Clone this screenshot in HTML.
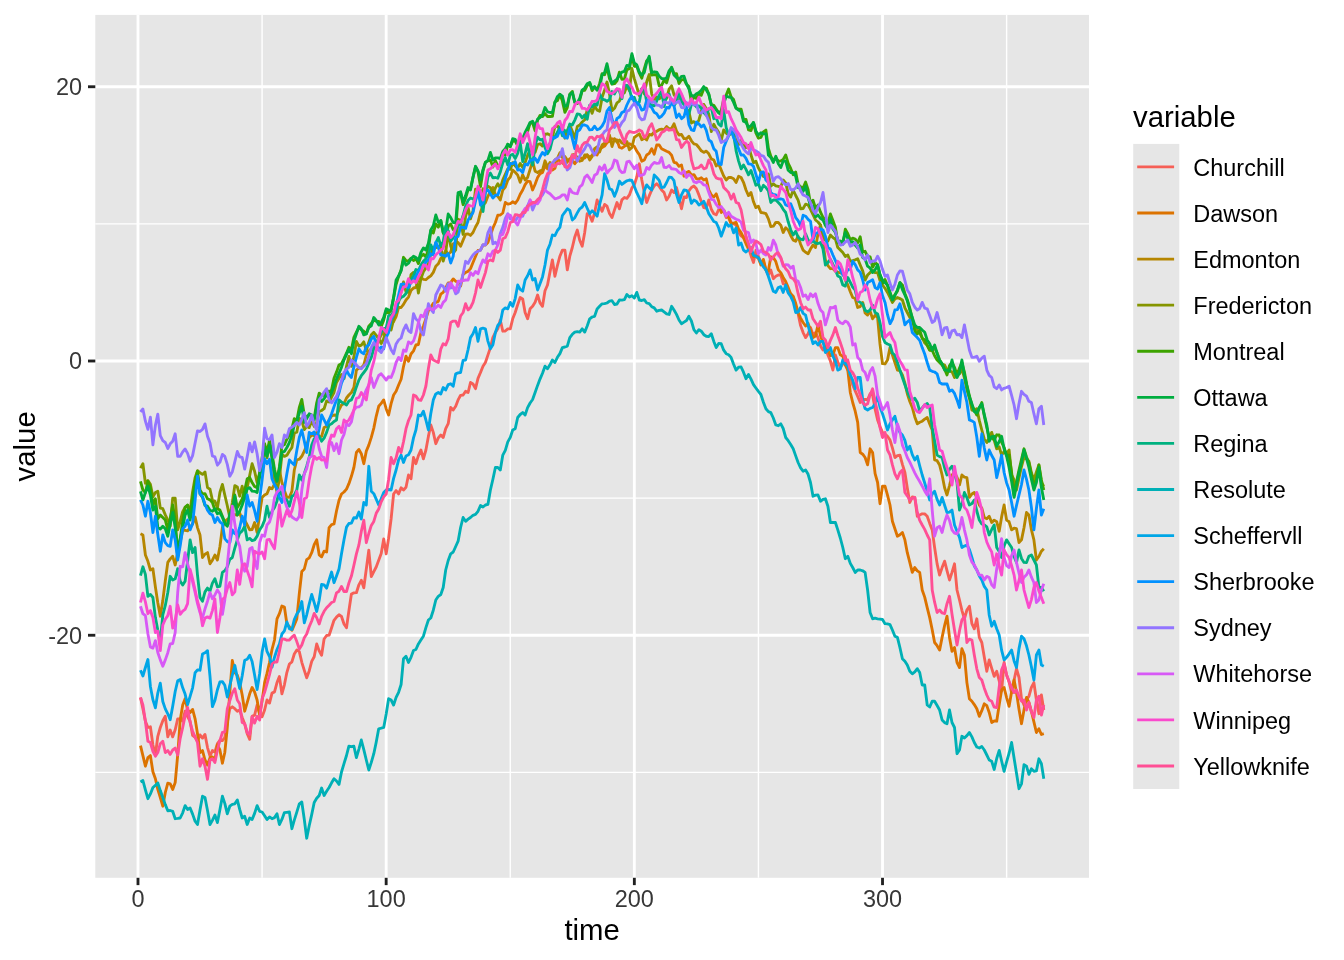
<!DOCTYPE html><html><head><meta charset="utf-8"><title>plot</title><style>html,body{margin:0;padding:0;background:#fff}svg{display:block}text{font-family:"Liberation Sans",sans-serif}</style></head><body>
<svg width="1344" height="960" viewBox="0 0 1344 960">
<rect width="1344" height="960" fill="#fff"/>
<rect x="95.3" y="14.9" width="993.7" height="862.9" fill="#E6E6E6"/>
<g stroke="#fff" stroke-width="1.42" fill="none">
<line x1="95.3" x2="1089.0" y1="772.38" y2="772.38"/>
<line x1="95.3" x2="1089.0" y1="498.12" y2="498.12"/>
<line x1="95.3" x2="1089.0" y1="223.88" y2="223.88"/>
<line y1="14.9" y2="877.8" x1="262.07" x2="262.07"/>
<line y1="14.9" y2="877.8" x1="510.25" x2="510.25"/>
<line y1="14.9" y2="877.8" x1="758.43" x2="758.43"/>
<line y1="14.9" y2="877.8" x1="1006.61" x2="1006.61"/>
</g><g stroke="#fff" stroke-width="2.85" fill="none">
<line x1="95.3" x2="1089.0" y1="635.25" y2="635.25"/>
<line x1="95.3" x2="1089.0" y1="361.00" y2="361.00"/>
<line x1="95.3" x2="1089.0" y1="86.75" y2="86.75"/>
<line y1="14.9" y2="877.8" x1="137.99" x2="137.99"/>
<line y1="14.9" y2="877.8" x1="386.16" x2="386.16"/>
<line y1="14.9" y2="877.8" x1="634.34" x2="634.34"/>
<line y1="14.9" y2="877.8" x1="882.52" x2="882.52"/>
</g>
<clipPath id="c"><rect x="95.3" y="14.9" width="993.7" height="862.9"/></clipPath>
<g clip-path="url(#c)" fill="none" stroke-width="2.85" stroke-linejoin="round" stroke-linecap="butt">
<polyline stroke="#F65F56" points="140.5,697.5 142.9,708.7 145.4,721.2 147.9,727.5 150.4,726.8 152.9,745.0 155.4,755.0 157.8,736.3 160.3,727.5 162.8,720.8 165.3,716.3 167.8,736.9 170.2,730.0 172.7,736.9 175.2,729.7 177.7,718.8 180.2,718.8 182.7,721.2 185.1,711.2 187.6,716.6 190.1,721.2 192.6,735.4 195.1,737.3 197.5,741.2 200.0,734.9 202.5,738.1 205.0,734.4 207.5,747.6 210.0,756.2 212.4,750.6 214.9,751.9 217.4,743.7 219.9,740.3 222.4,740.6 224.8,737.5 227.3,722.6 229.8,708.7 232.3,706.8 234.8,708.7 237.3,711.2 239.7,710.0 242.2,717.5 244.7,724.1 247.2,733.7 249.7,739.3 252.1,716.3 254.6,715.1 257.1,705.0 259.6,713.3 262.1,716.8 264.6,710.0 267.0,700.0 269.5,703.1 272.0,693.1 274.5,691.9 277.0,682.6 279.4,676.5 281.9,693.9 284.4,684.8 286.9,672.3 289.4,664.0 291.9,661.9 294.3,654.0 296.8,649.9 299.3,651.6 301.8,662.3 304.3,670.4 306.7,677.8 309.2,670.9 311.7,661.4 314.2,656.8 316.7,644.0 319.2,650.9 321.6,655.3 324.1,639.0 326.6,635.5 329.1,635.2 331.6,627.8 334.0,620.3 336.5,617.1 339.0,614.7 341.5,616.5 344.0,624.0 346.5,627.7 348.9,610.8 351.4,594.0 353.9,592.9 356.4,592.7 358.9,584.8 361.3,580.3 363.8,587.8 366.3,569.0 368.8,550.2 371.3,576.6 373.8,571.6 376.2,567.0 378.7,560.2 381.2,553.4 383.7,539.0 386.2,553.9 388.6,538.2 391.1,519.0 393.6,494.0 396.1,490.6 398.6,493.9 401.1,487.7 403.5,490.0 406.0,487.2 408.5,475.0 411.0,478.8 413.5,457.5 415.9,463.7 418.4,455.6 420.9,450.0 423.4,458.8 425.9,450.0 428.4,436.4 430.8,425.0 433.3,432.4 435.8,443.7 438.3,437.9 440.8,435.0 443.2,437.5 445.7,428.7 448.2,423.7 450.7,407.5 453.2,410.0 455.7,406.3 458.1,399.9 460.6,395.3 463.1,395.0 465.6,391.3 468.1,392.5 470.5,382.5 473.0,384.0 475.5,388.7 478.0,378.4 480.5,372.5 483.0,366.2 485.4,362.5 487.9,355.1 490.4,347.6 492.9,337.3 495.4,332.5 497.8,328.8 500.3,320.0 502.8,331.2 505.3,331.0 507.8,328.9 510.3,328.8 512.7,318.8 515.2,312.5 517.7,304.6 520.2,297.5 522.7,298.9 525.1,312.5 527.6,318.8 530.1,308.8 532.6,306.3 535.1,302.2 537.6,295.0 540.0,302.9 542.5,306.3 545.0,290.7 547.5,285.0 550.0,272.1 552.4,259.9 554.9,276.3 557.4,265.6 559.9,256.2 562.4,250.1 564.9,250.1 567.3,269.9 569.8,256.2 572.3,247.5 574.8,236.9 577.3,230.0 579.7,240.3 582.2,246.2 584.7,232.4 587.2,213.7 589.7,215.4 592.1,221.3 594.6,212.8 597.1,200.0 599.6,205.9 602.1,211.3 604.6,204.4 607.0,206.2 609.5,213.5 612.0,217.6 614.5,209.9 617.0,202.5 619.4,208.8 621.9,199.9 624.4,197.5 626.9,198.4 629.4,194.9 631.9,187.9 634.3,184.9 636.8,177.0 639.3,163.8 641.8,180.0 644.3,192.1 646.7,202.5 649.2,195.9 651.7,190.0 654.2,185.9 656.7,183.7 659.2,186.4 661.6,190.0 664.1,192.6 666.6,200.0 669.1,196.3 671.6,190.0 674.0,192.6 676.5,187.5 679.0,197.7 681.5,208.8 684.0,197.0 686.5,197.5 688.9,190.8 691.4,187.5 693.9,186.0 696.4,188.8 698.9,194.9 701.3,201.4 703.8,207.6 706.3,208.2 708.8,200.0 711.3,209.3 713.8,213.7 716.2,214.8 718.7,209.5 721.2,210.0 723.7,211.1 726.2,217.6 728.6,215.8 731.1,222.5 733.6,223.7 736.1,225.1 738.6,232.5 741.1,235.8 743.5,237.5 746.0,236.5 748.5,247.5 751.0,255.7 753.5,262.5 755.9,250.3 758.4,256.2 760.9,262.1 763.4,261.4 765.9,269.9 768.4,274.9 770.8,270.1 773.3,278.7 775.8,276.3 778.3,275.0 780.8,274.9 783.2,283.8 785.7,284.3 788.2,292.4 790.7,293.8 793.2,297.5 795.7,306.4 798.1,313.7 800.6,325.6 803.1,332.6 805.6,337.6 808.1,333.8 810.5,327.5 813.0,334.8 815.5,332.5 818.0,337.6 820.5,345.9 823.0,350.0 825.4,347.4 827.9,355.0 830.4,361.0 832.9,370.1 835.4,355.0 837.8,362.0 840.3,367.4 842.8,363.9 845.3,356.2 847.8,370.1 850.3,374.7 852.7,385.0 855.2,390.9 857.7,396.5 860.2,402.5 862.7,399.5 865.1,399.4 867.6,399.9 870.1,393.8 872.6,395.0 875.1,409.1 877.6,420.0 880.0,426.5 882.5,432.4 885.0,434.1 887.5,436.3 890.0,440.0 892.4,447.9 894.9,457.5 897.4,455.6 899.9,455.1 902.4,464.3 904.9,472.5 907.3,488.0 909.8,502.5 912.3,497.0 914.8,497.4 917.3,516.2 919.7,515.1 922.2,513.8 924.7,513.9 927.2,516.2 929.7,523.4 932.2,529.9 934.6,547.5 937.1,563.9 939.6,575.1 942.1,567.6 944.6,561.2 947.0,570.7 949.5,580.0 952.0,572.4 954.5,563.8 957.0,590.0 959.5,600.0 961.9,610.3 964.4,618.8 966.9,610.0 969.4,606.3 971.9,623.7 974.3,628.8 976.8,618.8 979.3,637.4 981.8,642.5 984.3,657.2 986.8,671.3 989.2,659.9 991.7,668.4 994.2,676.3 996.7,671.3 999.2,681.0 1001.6,691.2 1004.1,662.5 1006.6,675.0 1009.1,681.9 1011.6,692.6 1014.1,680.0 1016.5,668.7 1019.0,677.5 1021.5,698.7 1024.0,705.0 1026.5,699.6 1028.9,696.3 1031.4,687.4 1033.9,682.6 1036.4,700.0 1038.9,713.7 1041.4,695.0 1043.8,710.0"/>
<polyline stroke="#DC7300" points="140.5,745.6 142.9,755.6 145.4,766.2 147.9,757.6 150.4,755.6 152.9,771.8 155.4,778.7 157.8,789.4 160.3,797.5 162.8,806.2 165.3,792.5 167.8,783.1 170.2,783.8 172.7,789.4 175.2,782.5 177.7,755.0 180.2,720.0 182.7,705.0 185.1,698.7 187.6,710.0 190.1,712.5 192.6,709.4 195.1,718.8 197.5,733.7 200.0,752.5 202.5,750.6 205.0,760.0 207.5,765.0 210.0,757.6 212.4,756.9 214.9,760.0 217.4,745.0 219.9,750.0 222.4,763.2 224.8,752.5 227.3,727.5 229.8,692.6 232.3,660.5 234.8,672.5 237.3,675.2 239.7,682.6 242.2,695.0 244.7,711.2 247.2,702.7 249.7,693.8 252.1,687.5 254.6,692.0 257.1,700.0 259.6,715.1 262.1,700.7 264.6,682.6 267.0,673.4 269.5,662.5 272.0,649.5 274.5,640.0 277.0,618.9 279.4,613.7 281.9,606.0 284.4,607.0 286.9,624.0 289.4,626.7 291.9,630.3 294.3,625.0 296.8,618.9 299.3,593.7 301.8,571.5 304.3,569.0 306.7,559.6 309.2,557.8 311.7,552.7 314.2,544.7 316.7,539.8 319.2,554.8 321.6,556.8 324.1,551.2 326.6,552.0 329.1,527.7 331.6,524.7 334.0,524.0 336.5,511.0 339.0,500.2 341.5,494.0 344.0,492.0 346.5,489.1 348.9,483.7 351.4,476.3 353.9,467.5 356.4,452.5 358.9,449.4 361.3,453.7 363.8,463.7 366.3,451.1 368.8,445.1 371.3,437.4 373.8,428.1 376.2,416.3 378.7,406.3 381.2,403.4 383.7,399.9 386.2,408.9 388.6,415.0 391.1,403.6 393.6,395.0 396.1,391.3 398.6,385.0 401.1,379.2 403.5,366.6 406.0,356.2 408.5,361.3 411.0,354.0 413.5,350.9 415.9,345.0 418.4,344.5 420.9,332.5 423.4,325.9 425.9,318.8 428.4,310.5 430.8,307.5 433.3,303.3 435.8,302.4 438.3,301.4 440.8,294.1 443.2,292.4 445.7,287.9 448.2,282.8 450.7,282.6 453.2,278.9 455.7,281.2 458.1,282.4 460.6,286.1 463.1,274.3 465.6,272.6 468.1,271.2 470.5,268.6 473.0,262.5 475.5,256.5 478.0,250.5 480.5,250.1 483.0,245.0 485.4,245.1 487.9,242.5 490.4,235.3 492.9,228.0 495.4,222.5 497.8,215.1 500.3,215.0 502.8,213.0 505.3,202.5 507.8,204.1 510.3,203.7 512.7,201.8 515.2,203.3 517.7,200.0 520.2,194.3 522.7,190.0 525.1,184.7 527.6,181.2 530.1,181.6 532.6,190.0 535.1,184.2 537.6,177.5 540.0,173.8 542.5,172.5 545.0,165.7 547.5,168.8 550.0,166.6 552.4,170.0 554.9,168.3 557.4,158.7 559.9,161.2 562.4,162.9 564.9,165.0 567.3,161.6 569.8,158.6 572.3,160.0 574.8,163.7 577.3,160.5 579.7,157.5 582.2,158.3 584.7,158.1 587.2,155.0 589.7,157.1 592.1,155.4 594.6,153.8 597.1,155.0 599.6,148.9 602.1,147.5 604.6,146.1 607.0,142.6 609.5,141.2 612.0,138.7 614.5,139.7 617.0,140.0 619.4,147.2 621.9,148.2 624.4,146.3 626.9,145.3 629.4,143.8 631.9,145.0 634.3,146.3 636.8,151.2 639.3,154.6 641.8,161.2 644.3,160.0 646.7,155.0 649.2,153.4 651.7,148.7 654.2,154.2 656.7,145.0 659.2,145.0 661.6,148.7 664.1,150.0 666.6,151.3 669.1,152.4 671.6,155.2 674.0,162.4 676.5,163.0 679.0,166.3 681.5,165.0 684.0,176.2 686.5,172.5 688.9,171.4 691.4,175.1 693.9,174.6 696.4,178.8 698.9,179.0 701.3,177.8 703.8,180.0 706.3,178.8 708.8,190.0 711.3,194.9 713.8,197.0 716.2,193.8 718.7,201.2 721.2,212.5 723.7,210.0 726.2,215.1 728.6,217.6 731.1,223.7 733.6,223.1 736.1,222.5 738.6,229.2 741.1,232.5 743.5,237.7 746.0,243.8 748.5,249.1 751.0,250.1 753.5,256.5 755.9,256.2 758.4,258.3 760.9,265.0 763.4,259.4 765.9,269.9 768.4,270.8 770.8,256.8 773.3,257.5 775.8,261.6 778.3,269.9 780.8,272.6 783.2,277.5 785.7,281.6 788.2,287.5 790.7,293.9 793.2,296.3 795.7,303.3 798.1,312.5 800.6,318.1 803.1,322.5 805.6,326.0 808.1,323.4 810.5,330.0 813.0,337.6 815.5,336.0 818.0,324.9 820.5,335.8 823.0,342.5 825.4,346.5 827.9,350.0 830.4,355.5 832.9,355.0 835.4,347.6 837.8,347.6 840.3,354.8 842.8,356.2 845.3,365.0 847.8,370.1 850.3,392.5 852.7,402.5 855.2,411.2 857.7,422.4 860.2,452.5 862.7,454.2 865.1,457.5 867.6,464.9 870.1,448.8 872.6,452.5 875.1,473.7 877.6,482.5 880.0,503.7 882.5,486.2 885.0,486.2 887.5,495.1 890.0,505.0 892.4,521.3 894.9,528.7 897.4,536.2 899.9,534.7 902.4,532.5 904.9,539.9 907.3,552.7 909.8,562.4 912.3,572.4 914.8,567.5 917.3,570.9 919.7,572.4 922.2,590.0 924.7,597.1 927.2,607.6 929.7,617.6 932.2,629.8 934.6,642.5 937.1,645.7 939.6,650.1 942.1,637.4 944.6,625.5 947.0,616.2 949.5,637.4 952.0,651.3 954.5,647.5 957.0,662.5 959.5,667.5 961.9,648.7 964.4,655.0 966.9,682.6 969.4,698.7 971.9,701.2 974.3,704.6 976.8,708.7 979.3,716.3 981.8,710.7 984.3,703.8 986.8,705.6 989.2,712.5 991.7,722.5 994.2,721.0 996.7,721.2 999.2,704.8 1001.6,690.0 1004.1,687.5 1006.6,697.6 1009.1,706.3 1011.6,691.7 1014.1,680.0 1016.5,692.6 1019.0,709.2 1021.5,723.7 1024.0,710.0 1026.5,697.5 1028.9,702.4 1031.4,711.5 1033.9,721.9 1036.4,732.5 1038.9,728.8 1041.4,734.5 1043.8,733.7"/>
<polyline stroke="#B68600" points="140.5,533.8 142.9,535.0 145.4,555.0 147.9,561.3 150.4,570.0 152.9,568.7 155.4,587.0 157.8,602.8 160.3,616.2 162.8,600.6 165.3,580.8 167.8,562.4 170.2,558.9 172.7,556.3 175.2,565.0 177.7,552.6 180.2,542.1 182.7,529.9 185.1,530.3 187.6,530.8 190.1,527.5 192.6,523.9 195.1,517.0 197.5,527.6 200.0,535.0 202.5,557.5 205.0,554.1 207.5,552.6 210.0,563.8 212.4,560.2 214.9,555.0 217.4,560.0 219.9,546.7 222.4,527.5 224.8,521.3 227.3,519.5 229.8,517.9 232.3,516.2 234.8,514.7 237.3,515.0 239.7,513.1 242.2,520.1 244.7,520.1 247.2,525.0 249.7,529.9 252.1,529.5 254.6,522.5 257.1,532.5 259.6,514.7 262.1,497.4 264.6,495.0 267.0,493.7 269.5,487.6 272.0,488.8 274.5,484.1 277.0,481.3 279.4,470.0 281.9,482.5 284.4,490.4 286.9,497.4 289.4,497.4 291.9,491.3 294.3,470.0 296.8,460.0 299.3,459.2 301.8,456.3 304.3,451.2 306.7,445.1 309.2,437.8 311.7,435.0 314.2,435.5 316.7,432.4 319.2,436.6 321.6,436.3 324.1,427.5 326.6,426.4 329.1,420.0 331.6,416.0 334.0,415.0 336.5,415.3 339.0,410.0 341.5,404.9 344.0,403.5 346.5,398.0 348.9,395.0 351.4,392.5 353.9,387.5 356.4,370.1 358.9,368.0 361.3,368.0 363.8,365.0 366.3,355.0 368.8,351.0 371.3,348.9 373.8,344.3 376.2,341.4 378.7,340.0 381.2,334.9 383.7,333.3 386.2,329.0 388.6,326.9 391.1,324.9 393.6,321.6 396.1,316.7 398.6,307.4 401.1,307.5 403.5,304.4 406.0,300.0 408.5,297.1 411.0,290.5 413.5,288.0 415.9,287.5 418.4,278.3 420.9,277.9 423.4,279.3 425.9,279.7 428.4,277.5 430.8,275.8 433.3,272.4 435.8,266.2 438.3,263.8 440.8,258.3 443.2,256.6 445.7,250.5 448.2,254.3 450.7,252.0 453.2,243.8 455.7,242.9 458.1,242.5 460.6,246.2 463.1,240.1 465.6,234.2 468.1,233.9 470.5,235.4 473.0,232.5 475.5,227.0 478.0,222.5 480.5,212.2 483.0,205.0 485.4,202.8 487.9,196.3 490.4,191.4 492.9,187.5 495.4,194.7 497.8,196.3 500.3,200.0 502.8,190.0 505.3,187.0 507.8,180.0 510.3,177.1 512.7,170.0 515.2,172.2 517.7,175.1 520.2,182.3 522.7,174.8 525.1,180.0 527.6,177.4 530.1,169.4 532.6,161.2 535.1,171.2 537.6,172.5 540.0,170.9 542.5,170.0 545.0,160.8 547.5,167.1 550.0,162.4 552.4,164.2 554.9,160.0 557.4,158.3 559.9,152.8 562.4,157.5 564.9,156.5 567.3,160.0 569.8,161.5 572.3,155.0 574.8,154.4 577.3,157.6 579.7,161.2 582.2,160.4 584.7,155.0 587.2,154.8 589.7,160.0 592.1,156.5 594.6,148.7 597.1,146.8 599.6,151.9 602.1,145.0 604.6,143.1 607.0,140.0 609.5,135.0 612.0,146.5 614.5,138.7 617.0,142.3 619.4,140.0 621.9,143.0 624.4,143.8 626.9,141.5 629.4,149.8 631.9,147.5 634.3,137.5 636.8,135.7 639.3,133.8 641.8,139.8 644.3,138.0 646.7,140.0 649.2,134.5 651.7,135.0 654.2,132.0 656.7,131.3 659.2,129.7 661.6,129.1 664.1,129.9 666.6,126.5 669.1,128.7 671.6,128.4 674.0,123.8 676.5,130.9 679.0,135.0 681.5,134.5 684.0,138.7 686.5,138.6 688.9,136.3 691.4,140.8 693.9,143.8 696.4,144.5 698.9,147.5 701.3,150.8 703.8,152.4 706.3,151.1 708.8,153.8 711.3,158.9 713.8,160.0 716.2,165.9 718.7,163.7 721.2,170.0 723.7,176.0 726.2,180.0 728.6,177.5 731.1,177.5 733.6,178.8 736.1,182.5 738.6,176.3 741.1,177.5 743.5,182.3 746.0,190.0 748.5,195.6 751.0,192.5 753.5,201.8 755.9,207.6 758.4,206.2 760.9,212.5 763.4,212.9 765.9,213.7 768.4,218.8 770.8,226.5 773.3,226.2 775.8,222.4 778.3,222.5 780.8,225.2 783.2,232.5 785.7,227.7 788.2,230.0 790.7,235.5 793.2,240.1 795.7,241.2 798.1,236.2 800.6,244.2 803.1,250.1 805.6,252.3 808.1,253.8 810.5,249.1 813.0,245.0 815.5,247.5 818.0,234.0 820.5,225.0 823.0,242.8 825.4,259.9 827.9,265.6 830.4,268.7 832.9,268.6 835.4,271.2 837.8,272.1 840.3,273.0 842.8,272.6 845.3,280.0 847.8,285.0 850.3,291.8 852.7,297.5 855.2,298.5 857.7,307.5 860.2,306.6 862.7,302.4 865.1,312.9 867.6,315.1 870.1,311.1 872.6,318.8 875.1,315.2 877.6,317.5 880.0,344.0 882.5,363.7 885.0,363.9 887.5,360.0 890.0,347.6 892.4,354.8 894.9,362.5 897.4,370.1 899.9,370.6 902.4,375.0 904.9,383.1 907.3,393.8 909.8,401.5 912.3,407.5 914.8,416.9 917.3,423.8 919.7,422.2 922.2,421.2 924.7,419.1 927.2,417.5 929.7,423.9 932.2,430.0 934.6,460.0 937.1,460.7 939.6,464.9 942.1,475.0 944.6,487.8 947.0,495.0 949.5,485.5 952.0,475.0 954.5,472.5 957.0,477.3 959.5,485.0 961.9,475.0 964.4,477.1 966.9,477.6 969.4,497.4 971.9,494.0 974.3,492.5 976.8,497.4 979.3,505.0 981.8,508.1 984.3,517.5 986.8,518.7 989.2,516.2 991.7,522.5 994.2,520.1 996.7,521.6 999.2,531.3 1001.6,516.9 1004.1,505.0 1006.6,520.1 1009.1,521.8 1011.6,529.9 1014.1,528.2 1016.5,528.7 1019.0,542.6 1021.5,539.9 1024.0,527.7 1026.5,512.5 1028.9,515.0 1031.4,529.7 1033.9,539.9 1036.4,560.0 1038.9,556.5 1041.4,551.2 1043.8,548.7"/>
<polyline stroke="#859500" points="140.5,468.1 142.9,463.7 145.4,483.2 147.9,480.6 150.4,484.4 152.9,496.9 155.4,492.5 157.8,491.3 160.3,508.1 162.8,508.7 165.3,514.9 167.8,520.1 170.2,526.2 172.7,498.1 175.2,498.1 177.7,529.9 180.2,521.4 182.7,511.6 185.1,507.4 187.6,505.3 190.1,511.3 192.6,491.8 195.1,477.6 197.5,470.6 200.0,472.8 202.5,474.4 205.0,471.9 207.5,487.6 210.0,489.3 212.4,500.0 214.9,501.3 217.4,508.1 219.9,492.5 222.4,484.4 224.8,495.0 227.3,505.7 229.8,517.5 232.3,502.7 234.8,485.6 237.3,486.9 239.7,496.2 242.2,486.2 244.7,498.8 247.2,487.6 249.7,475.4 252.1,463.7 254.6,471.2 257.1,482.5 259.6,473.9 262.1,464.9 264.6,448.9 267.0,457.8 269.5,443.7 272.0,457.8 274.5,478.9 277.0,492.2 279.4,478.5 281.9,454.5 284.4,456.4 286.9,455.3 289.4,451.0 291.9,447.5 294.3,432.9 296.8,432.2 299.3,418.3 301.8,420.4 304.3,429.6 306.7,426.5 309.2,427.6 311.7,420.8 314.2,426.5 316.7,422.4 319.2,411.5 321.6,410.5 324.1,408.7 326.6,400.9 329.1,402.0 331.6,397.1 334.0,392.5 336.5,382.4 339.0,378.3 341.5,374.4 344.0,378.6 346.5,366.3 348.9,356.5 351.4,366.3 353.9,356.9 356.4,341.5 358.9,346.1 361.3,345.1 363.8,341.8 366.3,350.6 368.8,342.1 371.3,334.7 373.8,332.3 376.2,335.4 378.7,338.8 381.2,343.6 383.7,338.6 386.2,328.5 388.6,327.4 391.1,329.9 393.6,319.3 396.1,306.4 398.6,302.2 401.1,291.8 403.5,282.0 406.0,291.8 408.5,292.3 411.0,274.6 413.5,272.4 415.9,275.8 418.4,293.1 420.9,278.7 423.4,271.7 425.9,267.9 428.4,263.8 430.8,253.8 433.3,248.7 435.8,247.6 438.3,247.2 440.8,245.0 443.2,261.0 445.7,252.8 448.2,231.3 450.7,246.0 453.2,253.1 455.7,249.9 458.1,219.2 460.6,220.6 463.1,234.4 465.6,216.3 468.1,207.6 470.5,218.9 473.0,210.8 475.5,189.2 478.0,192.1 480.5,196.9 483.0,188.8 485.4,189.5 487.9,186.3 490.4,187.7 492.9,193.7 495.4,187.9 497.8,183.8 500.3,188.1 502.8,179.9 505.3,174.2 507.8,168.8 510.3,169.4 512.7,162.7 515.2,165.9 517.7,168.2 520.2,163.4 522.7,167.5 525.1,162.6 527.6,155.4 530.1,150.0 532.6,147.2 535.1,152.3 537.6,144.5 540.0,143.8 542.5,146.1 545.0,134.2 547.5,133.8 550.0,135.0 552.4,137.5 554.9,126.4 557.4,125.6 559.9,129.7 562.4,126.1 564.9,138.2 567.3,130.5 569.8,125.0 572.3,131.3 574.8,138.4 577.3,126.5 579.7,125.1 582.2,122.0 584.7,119.8 587.2,110.2 589.7,106.6 592.1,113.4 594.6,105.8 597.1,110.1 599.6,111.2 602.1,97.4 604.6,90.0 607.0,82.0 609.5,93.9 612.0,110.7 614.5,108.3 617.0,102.8 619.4,101.1 621.9,93.7 624.4,92.9 626.9,85.7 629.4,90.7 631.9,68.5 634.3,78.7 636.8,87.0 639.3,95.5 641.8,88.7 644.3,93.9 646.7,81.7 649.2,74.5 651.7,94.0 654.2,99.5 656.7,96.9 659.2,98.8 661.6,96.9 664.1,96.6 666.6,98.4 669.1,89.1 671.6,85.8 674.0,94.7 676.5,98.3 679.0,102.0 681.5,95.4 684.0,100.9 686.5,109.1 688.9,111.6 691.4,123.0 693.9,121.6 696.4,124.6 698.9,120.1 701.3,111.3 703.8,104.4 706.3,108.8 708.8,114.0 711.3,131.6 713.8,124.3 716.2,128.6 718.7,132.4 721.2,140.5 723.7,129.9 726.2,133.2 728.6,135.0 731.1,133.9 733.6,131.2 736.1,135.0 738.6,144.5 741.1,140.5 743.5,143.8 746.0,147.6 748.5,145.2 751.0,155.0 753.5,162.7 755.9,161.3 758.4,167.9 760.9,172.5 763.4,176.4 765.9,175.1 768.4,174.0 770.8,186.2 773.3,183.7 775.8,185.9 778.3,186.3 780.8,186.9 783.2,180.0 785.7,182.9 788.2,193.7 790.7,197.1 793.2,190.0 795.7,195.5 798.1,200.2 800.6,208.8 803.1,208.5 805.6,204.1 808.1,205.0 810.5,209.3 813.0,214.7 815.5,220.0 818.0,222.0 820.5,225.0 823.0,237.3 825.4,240.1 827.9,241.0 830.4,235.1 832.9,237.5 835.4,239.2 837.8,247.5 840.3,249.9 842.8,252.5 845.3,256.4 847.8,255.0 850.3,261.2 852.7,260.6 855.2,259.9 857.7,258.8 860.2,265.0 862.7,270.9 865.1,280.0 867.6,275.0 870.1,272.6 872.6,270.2 875.1,272.7 877.6,272.6 880.0,280.6 882.5,285.0 885.0,288.3 887.5,292.4 890.0,297.4 892.4,302.4 894.9,298.9 897.4,297.5 899.9,298.6 902.4,300.0 904.9,307.8 907.3,312.5 909.8,317.4 912.3,320.0 914.8,326.6 917.3,330.0 919.7,333.2 922.2,337.6 924.7,343.0 927.2,345.1 929.7,350.0 932.2,350.6 934.6,347.6 937.1,352.8 939.6,360.0 942.1,364.0 944.6,365.0 947.0,370.1 949.5,371.0 952.0,371.8 954.5,377.5 957.0,374.3 959.5,373.8 961.9,368.8 964.4,378.0 966.9,389.9 969.4,398.2 971.9,410.0 974.3,410.6 976.8,408.7 979.3,420.4 981.8,430.0 984.3,439.0 986.8,442.5 989.2,437.9 991.7,432.4 994.2,440.3 996.7,448.8 999.2,446.8 1001.6,455.1 1004.1,451.5 1006.6,453.6 1009.1,450.0 1011.6,475.0 1014.1,480.0 1016.5,490.0 1019.0,477.7 1021.5,466.7 1024.0,457.5 1026.5,458.9 1028.9,461.2 1031.4,472.8 1033.9,480.0 1036.4,471.9 1038.9,464.9 1041.4,482.5 1043.8,486.2"/>
<polyline stroke="#3DA300" points="140.5,481.3 142.9,490.0 145.4,492.5 147.9,481.3 150.4,487.6 152.9,505.0 155.4,498.8 157.8,518.7 160.3,515.1 162.8,517.5 165.3,520.1 167.8,529.9 170.2,518.3 172.7,505.0 175.2,520.1 177.7,552.6 180.2,538.6 182.7,521.3 185.1,507.4 187.6,505.0 190.1,515.0 192.6,497.6 195.1,481.3 197.5,471.2 200.0,490.0 202.5,493.9 205.0,493.7 207.5,498.8 210.0,499.9 212.4,502.5 214.9,510.1 217.4,508.7 219.9,510.1 222.4,516.2 224.8,522.5 227.3,525.0 229.8,522.1 232.3,515.0 234.8,495.0 237.3,507.4 239.7,503.7 242.2,498.8 244.7,490.3 247.2,478.8 249.7,477.6 252.1,482.5 254.6,486.5 257.1,487.6 259.6,472.5 262.1,457.7 264.6,443.7 267.0,452.6 269.5,440.3 272.0,453.6 274.5,469.2 277.0,479.9 279.4,466.9 281.9,445.9 284.4,444.6 286.9,439.2 289.4,435.3 291.9,428.5 294.3,418.7 296.8,420.6 299.3,407.5 301.8,399.4 304.3,415.0 306.7,416.8 309.2,414.9 311.7,415.0 314.2,418.3 316.7,402.8 319.2,393.1 321.6,395.6 324.1,395.3 326.6,390.3 329.1,392.0 331.6,389.8 334.0,378.3 336.5,372.1 339.0,365.0 341.5,363.7 344.0,358.7 346.5,353.2 348.9,347.2 351.4,349.9 353.9,337.4 356.4,332.2 358.9,327.3 361.3,329.7 363.8,331.2 366.3,333.8 368.8,326.2 371.3,323.4 373.8,320.1 376.2,321.1 378.7,321.5 381.2,326.4 383.7,320.1 386.2,310.3 388.6,313.1 391.1,310.3 393.6,297.9 396.1,284.6 398.6,276.4 401.1,269.7 403.5,257.3 406.0,260.6 408.5,261.0 411.0,258.2 413.5,260.5 415.9,258.7 418.4,263.6 420.9,256.4 423.4,254.3 425.9,256.9 428.4,249.2 430.8,230.6 433.3,233.1 435.8,223.9 438.3,227.2 440.8,220.6 443.2,232.8 445.7,237.9 448.2,226.1 450.7,224.0 453.2,229.6 455.7,230.9 458.1,195.8 460.6,192.6 463.1,204.7 465.6,198.1 468.1,189.6 470.5,188.8 473.0,177.3 475.5,166.8 478.0,171.8 480.5,186.7 483.0,171.2 485.4,162.4 487.9,160.9 490.4,160.0 492.9,167.1 495.4,160.5 497.8,165.9 500.3,164.8 502.8,153.1 505.3,154.9 507.8,144.3 510.3,146.8 512.7,140.9 515.2,141.1 517.7,145.7 520.2,140.4 522.7,137.8 525.1,135.6 527.6,131.7 530.1,123.1 532.6,122.8 535.1,130.9 537.6,120.1 540.0,115.4 542.5,116.6 545.0,113.6 547.5,116.5 550.0,116.5 552.4,116.4 554.9,102.0 557.4,100.6 559.9,94.3 562.4,101.1 564.9,112.4 567.3,107.5 569.8,94.2 572.3,91.4 574.8,102.5 577.3,103.6 579.7,100.1 582.2,90.7 584.7,90.3 587.2,85.5 589.7,83.0 592.1,90.6 594.6,86.9 597.1,90.0 599.6,83.7 602.1,73.7 604.6,74.7 607.0,67.3 609.5,78.7 612.0,84.1 614.5,83.7 617.0,80.9 619.4,72.2 621.9,79.3 624.4,79.1 626.9,69.7 629.4,68.6 631.9,55.6 634.3,66.3 636.8,66.2 639.3,73.2 641.8,78.2 644.3,68.6 646.7,60.7 649.2,58.5 651.7,75.0 654.2,74.7 656.7,74.7 659.2,85.9 661.6,85.4 664.1,80.2 666.6,82.8 669.1,74.1 671.6,67.3 674.0,73.6 676.5,73.6 679.0,83.5 681.5,79.8 684.0,79.3 686.5,84.3 688.9,86.6 691.4,102.4 693.9,96.9 696.4,98.5 698.9,93.3 701.3,95.3 703.8,88.8 706.3,88.1 708.8,94.0 711.3,104.7 713.8,105.4 716.2,109.0 718.7,112.7 721.2,110.9 723.7,99.0 726.2,95.0 728.6,89.1 731.1,97.0 733.6,99.6 736.1,107.9 738.6,109.2 741.1,109.1 743.5,119.2 746.0,119.4 748.5,129.9 751.0,130.5 753.5,122.5 755.9,133.0 758.4,138.2 760.9,137.5 763.4,131.9 765.9,130.1 768.4,148.5 770.8,156.1 773.3,160.9 775.8,157.6 778.3,161.3 780.8,160.9 783.2,159.4 785.7,154.9 788.2,163.4 790.7,168.5 793.2,174.8 795.7,172.0 798.1,184.4 800.6,186.7 803.1,188.1 805.6,182.1 808.1,189.7 810.5,203.7 813.0,200.2 815.5,208.1 818.0,205.1 820.5,212.2 823.0,217.3 825.4,219.2 827.9,223.5 830.4,213.9 832.9,220.4 835.4,227.2 837.8,242.7 840.3,240.9 842.8,244.4 845.3,229.2 847.8,233.7 850.3,239.9 852.7,238.1 855.2,239.0 857.7,242.9 860.2,236.8 862.7,251.7 865.1,251.3 867.6,256.4 870.1,256.9 872.6,267.2 875.1,262.7 877.6,264.7 880.0,275.0 882.5,283.4 885.0,279.5 887.5,285.6 890.0,292.2 892.4,299.3 894.9,294.8 897.4,291.1 899.9,282.6 902.4,285.0 904.9,293.5 907.3,299.7 909.8,308.1 912.3,318.8 914.8,331.0 917.3,334.0 919.7,330.0 922.2,338.4 924.7,339.7 927.2,345.4 929.7,350.0 932.2,350.3 934.6,355.8 937.1,360.0 939.6,362.4 942.1,365.0 944.6,369.2 947.0,375.0 949.5,365.7 952.0,362.5 954.5,367.3 957.0,375.0 959.5,368.1 961.9,362.5 964.4,372.0 966.9,385.0 969.4,395.7 971.9,405.0 974.3,410.2 976.8,415.0 979.3,408.3 981.8,402.5 984.3,415.9 986.8,427.5 989.2,437.5 991.7,437.8 994.2,440.0 996.7,434.8 999.2,435.0 1001.6,442.2 1004.1,447.5 1006.6,455.5 1009.1,455.1 1011.6,472.5 1014.1,495.0 1016.5,481.8 1019.0,470.0 1021.5,459.2 1024.0,448.8 1026.5,457.0 1028.9,462.5 1031.4,474.7 1033.9,485.0 1036.4,480.0 1038.9,464.9 1041.4,480.0 1043.8,490.0"/>
<polyline stroke="#00AD3F" points="140.5,491.3 142.9,500.0 145.4,492.5 147.9,486.2 150.4,495.0 152.9,510.1 155.4,506.2 157.8,527.5 160.3,529.0 162.8,526.2 165.3,528.7 167.8,536.2 170.2,524.0 172.7,512.5 175.2,527.5 177.7,557.5 180.2,539.7 182.7,527.5 185.1,515.0 187.6,510.1 190.1,520.1 192.6,506.8 195.1,490.0 197.5,476.2 200.0,493.7 202.5,497.4 205.0,505.5 207.5,506.2 210.0,510.3 212.4,511.3 214.9,508.8 217.4,513.8 219.9,512.5 222.4,517.3 224.8,523.8 227.3,526.2 229.8,513.6 232.3,509.1 234.8,496.2 237.3,515.0 239.7,511.2 242.2,505.0 244.7,497.0 247.2,488.8 249.7,487.6 252.1,491.1 254.6,491.3 257.1,492.5 259.6,477.6 262.1,462.6 264.6,447.5 267.0,456.3 269.5,445.1 272.0,457.5 274.5,472.5 277.0,481.3 279.4,469.3 281.9,452.5 284.4,451.4 286.9,447.5 289.4,442.5 291.9,435.5 294.3,425.0 296.8,421.7 299.3,413.1 301.8,406.3 304.3,422.4 306.7,418.5 309.2,413.8 311.7,415.2 314.2,420.0 316.7,407.1 319.2,397.5 321.6,401.5 324.1,398.6 326.6,395.0 329.1,397.5 331.6,392.5 334.0,386.2 336.5,379.1 339.0,373.2 341.5,367.4 344.0,359.9 346.5,354.3 348.9,348.8 351.4,353.7 353.9,341.0 356.4,333.7 358.9,326.3 361.3,328.8 363.8,334.9 366.3,334.0 368.8,327.5 371.3,325.8 373.8,317.5 376.2,320.4 378.7,324.9 381.2,322.6 383.7,317.5 386.2,308.8 388.6,310.1 391.1,310.0 393.6,297.4 396.1,280.0 398.6,276.1 401.1,270.9 403.5,259.9 406.0,265.0 408.5,263.2 411.0,258.7 413.5,256.2 415.9,257.5 418.4,260.4 420.9,252.5 423.4,247.9 425.9,250.1 428.4,243.3 430.8,230.0 433.3,225.8 435.8,215.0 438.3,222.2 440.8,220.6 443.2,232.5 445.7,230.7 448.2,214.0 450.7,217.6 453.2,222.6 455.7,222.5 458.1,192.5 460.6,191.8 463.1,202.5 465.6,195.6 468.1,187.5 470.5,190.0 473.0,177.4 475.5,166.3 478.0,170.9 480.5,180.0 483.0,169.7 485.4,162.4 487.9,160.4 490.4,152.4 492.9,160.0 495.4,157.8 497.8,157.8 500.3,158.7 502.8,151.5 505.3,148.7 507.8,144.2 510.3,146.5 512.7,138.7 515.2,139.3 517.7,145.0 520.2,138.7 522.7,138.6 525.1,132.5 527.6,127.6 530.1,122.5 532.6,121.2 535.1,126.2 537.6,119.1 540.0,117.5 542.5,114.9 545.0,107.5 547.5,111.8 550.0,112.5 552.4,112.3 554.9,102.5 557.4,96.5 559.9,94.4 562.4,96.2 564.9,106.5 567.3,105.0 569.8,94.7 572.3,92.5 574.8,102.4 577.3,102.5 579.7,98.4 582.2,90.0 584.7,88.0 587.2,83.7 589.7,82.4 592.1,88.8 594.6,86.6 597.1,90.0 599.6,87.7 602.1,75.0 604.6,72.5 607.0,63.7 609.5,75.5 612.0,83.7 614.5,81.1 617.0,79.2 619.4,75.0 621.9,72.1 624.4,71.3 626.9,65.4 629.4,66.3 631.9,53.7 634.3,62.8 636.8,64.9 639.3,71.9 641.8,75.0 644.3,72.5 646.7,62.1 649.2,56.3 651.7,72.5 654.2,71.8 656.7,72.1 659.2,76.2 661.6,78.5 664.1,78.8 666.6,78.0 669.1,70.8 671.6,67.6 674.0,75.1 676.5,77.6 679.0,79.8 681.5,76.3 684.0,76.2 686.5,83.9 688.9,88.8 691.4,95.4 693.9,96.2 696.4,93.7 698.9,92.5 701.3,90.3 703.8,86.6 706.3,90.0 708.8,94.2 711.3,105.0 713.8,107.5 716.2,110.1 718.7,112.7 721.2,115.0 723.7,103.5 726.2,96.2 728.6,97.0 731.1,97.4 733.6,102.4 736.1,108.4 738.6,110.1 741.1,111.6 743.5,121.3 746.0,122.4 748.5,127.5 751.0,125.7 753.5,122.5 755.9,130.9 758.4,135.0 760.9,132.7 763.4,133.9 765.9,133.8 768.4,155.0 770.8,157.4 773.3,162.4 775.8,156.3 778.3,163.8 780.8,167.5 783.2,161.1 785.7,161.2 788.2,170.3 790.7,172.5 793.2,172.6 795.7,176.3 798.1,187.5 800.6,188.1 803.1,191.4 805.6,186.3 808.1,197.5 810.5,206.2 813.0,206.2 815.5,216.9 818.0,215.0 820.5,218.3 823.0,220.0 825.4,225.4 827.9,228.8 830.4,218.8 832.9,228.9 835.4,232.5 837.8,241.0 840.3,241.3 842.8,241.8 845.3,232.5 847.8,238.4 850.3,242.5 852.7,241.6 855.2,245.0 857.7,248.1 860.2,245.0 862.7,257.5 865.1,259.0 867.6,266.2 870.1,268.0 872.6,272.6 875.1,269.8 877.6,265.0 880.0,274.5 882.5,280.0 885.0,282.7 887.5,285.0 890.0,293.0 892.4,300.0 894.9,295.5 897.4,290.0 899.9,282.6 902.4,289.6 904.9,295.0 907.3,300.8 909.8,310.0 912.3,317.5 914.8,325.1 917.3,327.5 919.7,327.5 922.2,330.0 924.7,332.3 927.2,340.0 929.7,343.7 932.2,350.0 934.6,345.0 937.1,353.5 939.6,360.0 942.1,363.7 944.6,370.1 947.0,370.1 949.5,371.3 952.0,360.0 954.5,371.4 957.0,377.5 959.5,372.5 961.9,360.0 964.4,375.1 966.9,386.2 969.4,397.1 971.9,403.8 974.3,411.7 976.8,412.6 979.3,407.3 981.8,403.8 984.3,414.6 986.8,425.0 989.2,441.2 991.7,436.6 994.2,436.3 996.7,446.3 999.2,441.5 1001.6,436.3 1004.1,448.8 1006.6,456.2 1009.1,467.5 1011.6,481.4 1014.1,497.4 1016.5,485.2 1019.0,472.5 1021.5,462.6 1024.0,450.0 1026.5,458.4 1028.9,467.5 1031.4,479.1 1033.9,490.0 1036.4,482.5 1038.9,467.5 1041.4,487.6 1043.8,500.0"/>
<polyline stroke="#00B17F" points="140.5,575.6 142.9,566.8 145.4,574.4 147.9,596.3 150.4,594.4 152.9,597.5 155.4,617.6 157.8,630.0 160.3,641.3 162.8,615.0 165.3,605.4 167.8,592.5 170.2,576.3 172.7,580.0 175.2,578.8 177.7,568.7 180.2,581.2 182.7,585.1 185.1,581.2 187.6,561.2 190.1,539.9 192.6,552.6 195.1,547.5 197.5,575.1 200.0,597.5 202.5,601.2 205.0,591.9 207.5,588.1 210.0,591.2 212.4,583.1 214.9,578.8 217.4,586.8 219.9,586.3 222.4,572.4 224.8,570.7 227.3,566.8 229.8,559.4 232.3,557.5 234.8,548.2 237.3,539.9 239.7,533.1 242.2,530.9 244.7,526.2 247.2,539.9 249.7,538.4 252.1,540.6 254.6,539.9 257.1,536.1 259.6,529.9 262.1,526.2 264.6,520.1 267.0,506.2 269.5,517.5 272.0,511.2 274.5,507.4 277.0,500.9 279.4,490.0 281.9,495.0 284.4,498.4 286.9,500.0 289.4,506.2 291.9,496.2 294.3,495.0 296.8,490.0 299.3,475.0 301.8,480.0 304.3,473.7 306.7,466.2 309.2,457.5 311.7,445.1 314.2,438.7 316.7,437.4 319.2,436.3 321.6,441.2 324.1,438.1 326.6,432.4 329.1,425.0 331.6,423.8 334.0,421.5 336.5,420.0 339.0,399.9 341.5,402.1 344.0,403.4 346.5,405.0 348.9,401.0 351.4,399.9 353.9,394.5 356.4,386.9 358.9,380.1 361.3,375.7 363.8,372.5 366.3,369.2 368.8,363.2 371.3,357.4 373.8,348.4 376.2,344.4 378.7,337.8 381.2,332.5 383.7,328.6 386.2,328.1 388.6,315.7 391.1,315.1 393.6,311.6 396.1,312.3 398.6,300.3 401.1,297.5 403.5,296.3 406.0,293.5 408.5,287.2 411.0,280.0 413.5,275.8 415.9,269.5 418.4,270.8 420.9,265.0 423.4,261.2 425.9,258.8 428.4,255.0 430.8,244.9 433.3,250.8 435.8,242.8 438.3,237.5 440.8,245.7 443.2,241.8 445.7,226.2 448.2,231.0 450.7,241.0 453.2,237.9 455.7,228.9 458.1,225.9 460.6,222.9 463.1,215.5 465.6,206.0 468.1,200.3 470.5,198.0 473.0,198.9 475.5,199.9 478.0,191.9 480.5,200.6 483.0,211.5 485.4,192.9 487.9,177.1 490.4,173.1 492.9,177.9 495.4,177.5 497.8,178.2 500.3,171.9 502.8,162.9 505.3,157.5 507.8,165.0 510.3,155.2 512.7,154.2 515.2,158.5 517.7,153.4 520.2,142.4 522.7,161.5 525.1,153.5 527.6,143.7 530.1,157.8 532.6,165.0 535.1,145.6 537.6,137.1 540.0,139.8 542.5,139.3 545.0,147.4 547.5,153.7 550.0,149.4 552.4,139.7 554.9,136.9 557.4,132.3 559.9,127.1 562.4,135.8 564.9,130.6 567.3,132.1 569.8,124.0 572.3,125.0 574.8,120.1 577.3,113.9 579.7,114.3 582.2,117.9 584.7,115.0 587.2,119.2 589.7,105.3 592.1,106.8 594.6,103.9 597.1,105.1 599.6,93.7 602.1,99.1 604.6,99.8 607.0,101.3 609.5,99.4 612.0,91.5 614.5,93.9 617.0,89.1 619.4,90.7 621.9,98.7 624.4,85.1 626.9,85.4 629.4,89.1 631.9,98.8 634.3,97.3 636.8,104.6 639.3,102.1 641.8,88.9 644.3,88.8 646.7,101.7 649.2,99.9 651.7,105.4 654.2,105.9 656.7,101.0 659.2,95.4 661.6,91.0 664.1,106.5 666.6,95.3 669.1,94.0 671.6,102.7 674.0,105.7 676.5,102.0 679.0,90.6 681.5,101.6 684.0,104.7 686.5,112.3 688.9,114.2 691.4,104.4 693.9,104.0 696.4,106.9 698.9,105.9 701.3,108.1 703.8,112.5 706.3,115.3 708.8,108.7 711.3,107.6 713.8,118.7 716.2,117.7 718.7,124.2 721.2,126.0 723.7,110.2 726.2,127.6 728.6,134.9 731.1,131.7 733.6,134.6 736.1,150.9 738.6,161.1 741.1,168.9 743.5,164.9 746.0,169.4 748.5,174.8 751.0,170.5 753.5,177.9 755.9,185.2 758.4,183.7 760.9,190.7 763.4,185.3 765.9,187.5 768.4,191.0 770.8,202.5 773.3,200.0 775.8,200.0 778.3,202.6 780.8,205.2 783.2,209.3 785.7,212.5 788.2,221.8 790.7,229.8 793.2,235.0 795.7,231.3 798.1,237.3 800.6,239.2 803.1,239.8 805.6,233.9 808.1,240.1 810.5,242.5 813.0,240.7 815.5,243.1 818.0,243.5 820.5,242.5 823.0,249.1 825.4,265.0 827.9,262.5 830.4,259.3 832.9,264.2 835.4,269.9 837.8,276.0 840.3,277.2 842.8,285.0 845.3,286.1 847.8,277.5 850.3,282.3 852.7,287.1 855.2,290.2 857.7,300.9 860.2,302.4 862.7,304.0 865.1,310.3 867.6,311.8 870.1,310.0 872.6,305.3 875.1,312.5 877.6,314.0 880.0,322.5 882.5,336.5 885.0,342.5 887.5,344.0 890.0,345.0 892.4,353.0 894.9,355.2 897.4,362.5 899.9,370.1 902.4,377.5 904.9,384.7 907.3,391.3 909.8,397.1 912.3,399.9 914.8,398.3 917.3,402.5 919.7,411.2 922.2,407.9 924.7,405.0 927.2,403.6 929.7,407.5 932.2,427.5 934.6,441.1 937.1,455.1 939.6,456.6 942.1,457.5 944.6,467.8 947.0,475.0 949.5,469.1 952.0,466.3 954.5,473.2 957.0,482.5 959.5,510.1 961.9,503.6 964.4,492.5 966.9,497.7 969.4,505.0 971.9,503.6 974.3,500.0 976.8,511.0 979.3,520.1 981.8,524.0 984.3,525.0 986.8,526.9 989.2,535.0 991.7,529.5 994.2,525.0 996.7,547.5 999.2,551.5 1001.6,557.5 1004.1,546.0 1006.6,539.9 1009.1,543.7 1011.6,547.5 1014.1,556.8 1016.5,562.4 1019.0,550.0 1021.5,558.5 1024.0,562.4 1026.5,562.6 1028.9,556.3 1031.4,555.0 1033.9,560.0 1036.4,565.0 1038.9,587.5 1041.4,587.5 1043.8,591.2"/>
<polyline stroke="#00B0B6" points="140.5,782.0 142.9,780.5 145.4,789.8 147.9,798.7 150.4,793.9 152.9,787.5 155.4,785.4 157.8,782.9 160.3,790.6 162.8,797.5 165.3,804.6 167.8,810.8 170.2,810.5 172.7,811.3 175.2,818.7 177.7,818.4 180.2,818.0 182.7,812.8 185.1,805.6 187.6,809.5 190.1,808.0 192.6,814.1 195.1,821.2 197.5,824.5 200.0,809.9 202.5,796.2 205.0,797.5 207.5,810.6 210.0,824.5 212.4,820.4 214.9,815.0 217.4,822.6 219.9,809.7 222.4,796.2 224.8,803.4 227.3,813.8 229.8,806.2 232.3,804.3 234.8,803.8 237.3,799.9 239.7,809.4 242.2,818.0 244.7,816.3 247.2,824.5 249.7,818.0 252.1,819.5 254.6,813.4 257.1,805.6 259.6,811.3 262.1,812.0 264.6,815.7 267.0,819.5 269.5,816.9 272.0,818.7 274.5,817.6 277.0,813.8 279.4,824.5 281.9,819.4 284.4,812.6 286.9,812.3 289.4,812.0 291.9,828.7 294.3,820.2 296.8,812.1 299.3,803.8 301.8,802.0 304.3,819.5 306.7,838.2 309.2,825.7 311.7,814.6 314.2,802.5 316.7,798.3 319.2,795.5 321.6,788.0 324.1,795.5 326.6,791.2 329.1,787.5 331.6,782.8 334.0,778.7 336.5,781.0 339.0,784.4 341.5,772.0 344.0,763.6 346.5,755.5 348.9,746.2 351.4,746.7 353.9,746.2 356.4,757.6 358.9,749.1 361.3,740.0 363.8,749.6 366.3,760.0 368.8,770.0 371.3,762.4 373.8,753.7 376.2,742.2 378.7,728.8 381.2,728.2 383.7,727.5 386.2,714.0 388.6,698.7 391.1,700.0 393.6,705.0 396.1,697.4 398.6,692.3 401.1,684.5 403.5,658.7 406.0,656.2 408.5,662.5 411.0,657.3 413.5,650.5 415.9,649.5 418.4,643.9 420.9,640.0 423.4,636.2 425.9,627.6 428.4,620.0 430.8,618.0 433.3,610.2 435.8,600.0 438.3,596.3 440.8,594.5 443.2,587.5 445.7,570.0 448.2,560.5 450.7,553.8 453.2,552.0 455.7,546.5 458.1,541.2 460.6,527.5 463.1,517.5 465.6,521.3 468.1,519.2 470.5,517.5 473.0,515.3 475.5,514.4 478.0,511.3 480.5,505.5 483.0,507.0 485.4,505.0 487.9,504.4 490.4,490.0 492.9,479.3 495.4,467.5 497.8,467.4 500.3,470.0 502.8,455.1 505.3,450.3 507.8,441.9 510.3,437.4 512.7,430.0 515.2,428.7 517.7,417.5 520.2,414.5 522.7,412.6 525.1,415.0 527.6,407.6 530.1,403.0 532.6,399.5 535.1,392.5 537.6,385.4 540.0,379.1 542.5,373.3 545.0,366.2 547.5,368.8 550.0,364.8 552.4,360.0 554.9,362.5 557.4,357.3 559.9,353.6 562.4,347.6 564.9,347.0 567.3,346.2 569.8,337.6 572.3,334.3 574.8,332.1 577.3,331.7 579.7,332.1 582.2,328.8 584.7,332.1 587.2,326.0 589.7,318.8 592.1,317.0 594.6,316.3 597.1,309.0 599.6,306.3 602.1,303.8 604.6,303.7 607.0,303.0 609.5,301.2 612.0,300.7 614.5,304.5 617.0,304.0 619.4,300.0 621.9,300.1 624.4,299.6 626.9,294.5 629.4,297.0 631.9,295.7 634.3,298.1 636.8,292.4 639.3,300.0 641.8,300.5 644.3,299.6 646.7,303.0 649.2,303.7 651.7,306.7 654.2,307.9 656.7,311.2 659.2,310.3 661.6,310.0 664.1,311.8 666.6,313.8 669.1,314.5 671.6,306.3 674.0,310.0 676.5,314.4 679.0,320.0 681.5,323.7 684.0,322.1 686.5,320.5 688.9,316.3 691.4,321.0 693.9,329.7 696.4,333.0 698.9,329.7 701.3,331.2 703.8,334.7 706.3,336.3 708.8,336.5 711.3,333.7 713.8,341.4 716.2,347.6 718.7,343.4 721.2,343.7 723.7,350.2 726.2,353.7 728.6,354.7 731.1,357.4 733.6,364.2 736.1,370.1 738.6,367.2 741.1,367.0 743.5,372.2 746.0,378.7 748.5,374.4 751.0,379.1 753.5,384.6 755.9,388.0 758.4,391.4 760.9,394.5 763.4,402.3 765.9,408.7 768.4,411.6 770.8,412.6 773.3,418.0 775.8,425.0 778.3,425.7 780.8,423.8 783.2,428.5 785.7,437.5 788.2,440.7 790.7,444.5 793.2,448.8 795.7,455.9 798.1,462.5 800.6,467.8 803.1,471.2 805.6,470.0 808.1,474.3 810.5,482.5 813.0,496.2 815.5,495.1 818.0,495.0 820.5,501.3 823.0,499.4 825.4,498.8 827.9,506.2 830.4,522.5 832.9,522.3 835.4,522.5 837.8,529.9 840.3,538.0 842.8,547.5 845.3,558.7 847.8,556.3 850.3,563.4 852.7,567.5 855.2,572.4 857.7,570.0 860.2,570.0 862.7,570.8 865.1,572.4 867.6,590.0 870.1,612.5 872.6,618.8 875.1,618.2 877.6,618.8 880.0,619.1 882.5,619.5 885.0,623.7 887.5,623.9 890.0,624.6 892.4,630.0 894.9,636.2 897.4,637.4 899.9,647.5 902.4,658.7 904.9,661.2 907.3,665.0 909.8,671.3 912.3,673.8 914.8,671.9 917.3,668.7 919.7,672.5 922.2,685.0 924.7,685.0 927.2,705.0 929.7,707.0 932.2,701.2 934.6,701.2 937.1,705.5 939.6,710.0 942.1,720.0 944.6,722.6 947.0,723.7 949.5,710.0 952.0,722.5 954.5,727.5 957.0,753.7 959.5,750.0 961.9,736.3 964.4,738.0 966.9,735.6 969.4,732.5 971.9,736.9 974.3,742.5 976.8,747.0 979.3,748.0 981.8,746.5 984.3,750.0 986.8,755.0 989.2,760.0 991.7,761.3 994.2,769.5 996.7,758.5 999.2,750.4 1001.6,761.0 1004.1,771.3 1006.6,761.8 1009.1,753.2 1011.6,742.5 1014.1,758.3 1016.5,773.2 1019.0,788.7 1021.5,783.8 1024.0,764.6 1026.5,766.2 1028.9,774.4 1031.4,768.8 1033.9,771.3 1036.4,770.9 1038.9,758.8 1041.4,763.7 1043.8,778.7"/>
<polyline stroke="#00A6E6" points="140.5,670.2 142.9,676.0 145.4,667.5 147.9,659.5 150.4,686.5 152.9,699.7 155.4,707.8 157.8,693.1 160.3,683.2 162.8,701.5 165.3,708.9 167.8,713.8 170.2,719.7 172.7,706.3 175.2,691.5 177.7,680.8 180.2,679.5 182.7,687.8 185.1,694.1 187.6,704.5 190.1,696.4 192.6,687.8 195.1,672.7 197.5,669.9 200.0,670.2 202.5,654.0 205.0,652.8 207.5,650.7 210.0,676.4 212.4,706.6 214.9,700.4 217.4,689.7 219.9,682.0 222.4,681.6 224.8,685.3 227.3,697.0 229.8,685.4 232.3,675.2 234.8,665.3 237.3,677.6 239.7,688.5 242.2,675.7 244.7,660.2 247.2,659.2 249.7,655.3 252.1,661.4 254.6,674.9 257.1,689.6 259.6,673.9 262.1,652.1 264.6,639.0 267.0,651.4 269.5,656.5 272.0,667.1 274.5,657.2 277.0,649.5 279.4,644.0 281.9,634.0 284.4,630.9 286.9,621.9 289.4,628.8 291.9,629.5 294.3,619.5 296.8,614.1 299.3,610.4 301.8,601.5 304.3,622.8 306.7,614.8 309.2,604.1 311.7,594.5 314.2,602.6 316.7,611.5 319.2,600.3 321.6,584.5 324.1,584.9 326.6,588.2 329.1,579.9 331.6,572.0 334.0,582.7 336.5,576.0 339.0,569.0 341.5,553.8 344.0,539.7 346.5,527.1 348.9,523.5 351.4,523.2 353.9,517.6 356.4,518.1 358.9,512.0 361.3,519.0 363.8,502.5 366.3,505.0 368.8,466.3 371.3,491.3 373.8,493.7 376.2,499.1 378.7,505.0 381.2,498.8 383.7,492.5 386.2,490.0 388.6,489.5 391.1,490.0 393.6,478.4 396.1,470.0 398.6,459.9 401.1,455.1 403.5,462.5 406.0,456.0 408.5,454.8 411.0,450.0 413.5,437.9 415.9,430.0 418.4,415.0 420.9,415.9 423.4,411.2 425.9,420.0 428.4,430.0 430.8,413.5 433.3,399.9 435.8,393.9 438.3,392.5 440.8,394.0 443.2,387.5 445.7,389.9 448.2,384.7 450.7,383.8 453.2,386.2 455.7,373.8 458.1,372.9 460.6,372.5 463.1,360.3 465.6,360.0 468.1,349.5 470.5,337.6 473.0,333.8 475.5,327.5 478.0,341.3 480.5,328.8 483.0,328.2 485.4,328.8 487.9,341.1 490.4,348.8 492.9,344.8 495.4,332.5 497.8,325.5 500.3,322.5 502.8,310.0 505.3,307.9 507.8,308.8 510.3,302.4 512.7,306.3 515.2,298.6 517.7,285.0 520.2,289.4 522.7,291.2 525.1,280.0 527.6,275.7 530.1,269.9 532.6,280.0 535.1,278.6 537.6,290.0 540.0,283.8 542.5,276.9 545.0,265.0 547.5,250.1 550.0,244.2 552.4,235.0 554.9,235.7 557.4,230.5 559.9,227.4 562.4,215.5 564.9,212.2 567.3,208.8 569.8,210.4 572.3,220.0 574.8,217.7 577.3,212.9 579.7,208.8 582.2,207.0 584.7,202.5 587.2,208.2 589.7,213.7 592.1,210.8 594.6,213.0 597.1,216.2 599.6,204.7 602.1,194.9 604.6,173.7 607.0,179.9 609.5,188.8 612.0,189.9 614.5,196.3 617.0,190.0 619.4,181.2 621.9,184.4 624.4,182.5 626.9,180.8 629.4,180.0 631.9,180.5 634.3,186.3 636.8,192.7 639.3,197.8 641.8,203.7 644.3,190.6 646.7,184.9 649.2,187.9 651.7,190.0 654.2,174.9 656.7,177.5 659.2,180.4 661.6,187.5 664.1,187.1 666.6,182.5 669.1,177.1 671.6,177.5 674.0,180.7 676.5,194.4 679.0,202.5 681.5,194.8 684.0,190.0 686.5,190.3 688.9,193.7 691.4,203.4 693.9,200.0 696.4,201.4 698.9,205.0 701.3,203.6 703.8,201.2 706.3,207.0 708.8,213.7 711.3,217.6 713.8,221.5 716.2,222.5 718.7,228.0 721.2,236.2 723.7,229.4 726.2,222.5 728.6,226.2 731.1,225.0 733.6,232.9 736.1,227.9 738.6,245.0 741.1,243.1 743.5,250.1 746.0,252.0 748.5,249.7 751.0,247.5 753.5,255.4 755.9,256.2 758.4,257.7 760.9,262.5 763.4,266.9 765.9,269.9 768.4,276.5 770.8,283.8 773.3,291.2 775.8,292.4 778.3,287.5 780.8,286.7 783.2,292.4 785.7,285.0 788.2,292.8 790.7,296.3 793.2,301.8 795.7,312.5 798.1,312.0 800.6,307.5 803.1,313.4 805.6,315.1 808.1,325.5 810.5,334.9 813.0,343.7 815.5,341.7 818.0,345.0 820.5,341.3 823.0,341.3 825.4,352.5 827.9,350.3 830.4,347.6 832.9,356.1 835.4,361.3 837.8,370.1 840.3,369.0 842.8,360.0 845.3,363.7 847.8,366.2 850.3,375.0 852.7,380.1 855.2,388.7 857.7,377.5 860.2,377.5 862.7,399.9 865.1,408.6 867.6,410.0 870.1,408.4 872.6,407.5 875.1,403.8 877.6,396.2 880.0,407.2 882.5,413.8 885.0,421.5 887.5,430.0 890.0,423.8 892.4,420.0 894.9,416.3 897.4,426.4 899.9,432.4 902.4,435.0 904.9,440.4 907.3,450.0 909.8,446.3 912.3,454.7 914.8,460.0 917.3,456.3 919.7,465.8 922.2,475.0 924.7,483.0 927.2,491.3 929.7,500.0 932.2,494.0 934.6,491.3 937.1,499.4 939.6,505.0 942.1,497.4 944.6,505.3 947.0,512.5 949.5,512.2 952.0,510.1 954.5,525.0 957.0,531.3 959.5,537.5 961.9,547.5 964.4,546.1 966.9,545.0 969.4,549.4 971.9,557.5 974.3,565.9 976.8,570.0 979.3,576.0 981.8,580.0 984.3,586.4 986.8,590.0 989.2,615.0 991.7,626.2 994.2,621.3 996.7,628.8 999.2,635.0 1001.6,650.1 1004.1,659.9 1006.6,657.3 1009.1,653.8 1011.6,650.1 1014.1,660.9 1016.5,667.5 1019.0,648.6 1021.5,636.2 1024.0,638.8 1026.5,645.8 1028.9,655.0 1031.4,666.7 1033.9,680.0 1036.4,655.0 1038.9,650.1 1041.4,665.0 1043.8,666.2"/>
<polyline stroke="#0291FF" points="140.5,500.0 142.9,505.0 145.4,516.2 147.9,501.3 150.4,512.5 152.9,532.5 155.4,516.2 157.8,534.3 160.3,551.2 162.8,535.0 165.3,542.6 167.8,545.6 170.2,546.3 172.7,529.9 175.2,539.9 177.7,560.0 180.2,545.7 182.7,528.7 185.1,526.2 187.6,520.1 190.1,529.9 192.6,523.8 195.1,500.3 197.5,476.2 200.0,493.7 202.5,496.5 205.0,504.2 207.5,510.1 210.0,513.8 212.4,515.0 214.9,522.5 217.4,517.5 219.9,521.8 222.4,523.8 224.8,538.7 227.3,541.7 229.8,542.6 232.3,529.9 234.8,533.6 237.3,535.0 239.7,527.5 242.2,516.2 244.7,525.0 247.2,495.0 249.7,506.2 252.1,502.5 254.6,510.6 257.1,521.3 259.6,500.0 262.1,479.8 264.6,458.8 267.0,463.7 269.5,459.3 272.0,478.8 274.5,484.7 277.0,488.8 279.4,497.3 281.9,502.5 284.4,488.8 286.9,473.4 289.4,460.0 291.9,462.7 294.3,464.9 296.8,450.4 299.3,437.5 301.8,430.0 304.3,441.1 306.7,452.5 309.2,432.4 311.7,433.8 314.2,432.0 316.7,440.0 319.2,428.7 321.6,415.0 324.1,419.8 326.6,425.0 329.1,420.0 331.6,413.8 334.0,406.8 336.5,399.9 339.0,392.8 341.5,383.1 344.0,377.3 346.5,370.1 348.9,374.7 351.4,377.5 353.9,366.9 356.4,357.4 358.9,348.8 361.3,352.2 363.8,353.7 366.3,346.7 368.8,345.0 371.3,338.9 373.8,336.3 376.2,343.9 378.7,350.0 381.2,346.9 383.7,348.8 386.2,337.3 388.6,332.5 391.1,319.9 393.6,315.1 396.1,306.0 398.6,295.0 401.1,284.3 403.5,283.8 406.0,286.3 408.5,287.5 411.0,282.3 413.5,280.0 415.9,276.1 418.4,271.2 420.9,267.5 423.4,266.7 425.9,262.0 428.4,259.9 430.8,253.8 433.3,255.0 435.8,242.5 438.3,247.2 440.8,255.0 443.2,255.1 445.7,256.2 448.2,253.6 450.7,263.0 453.2,256.2 455.7,237.5 458.1,236.4 460.6,227.0 463.1,227.4 465.6,228.4 468.1,220.0 470.5,216.2 473.0,212.5 475.5,201.1 478.0,190.0 480.5,205.0 483.0,203.0 485.4,191.0 487.9,190.0 490.4,193.7 492.9,198.1 495.4,195.2 497.8,194.9 500.3,187.9 502.8,187.5 505.3,178.6 507.8,170.0 510.3,163.4 512.7,163.8 515.2,161.6 517.7,170.0 520.2,169.7 522.7,172.5 525.1,164.1 527.6,165.0 530.1,160.1 532.6,160.0 535.1,158.3 537.6,162.4 540.0,156.8 542.5,152.4 545.0,155.0 547.5,147.5 550.0,143.1 552.4,137.5 554.9,137.8 557.4,136.3 559.9,129.9 562.4,132.5 564.9,137.5 567.3,138.2 569.8,128.7 572.3,138.7 574.8,148.7 577.3,131.6 579.7,129.9 582.2,125.0 584.7,125.0 587.2,126.0 589.7,129.9 592.1,129.7 594.6,126.2 597.1,129.8 599.6,128.7 602.1,126.0 604.6,121.3 607.0,111.0 609.5,107.5 612.0,119.0 614.5,126.2 617.0,118.4 619.4,117.1 621.9,112.5 624.4,111.4 626.9,105.0 629.4,99.8 631.9,96.2 634.3,102.0 636.8,102.5 639.3,104.9 641.8,110.1 644.3,109.1 646.7,100.1 649.2,105.7 651.7,107.5 654.2,112.3 656.7,113.8 659.2,117.7 661.6,116.2 664.1,113.1 666.6,107.5 669.1,108.0 671.6,102.5 674.0,105.9 676.5,117.5 679.0,114.0 681.5,118.7 684.0,116.6 686.5,107.5 688.9,124.3 691.4,129.9 693.9,130.6 696.4,122.0 698.9,123.8 701.3,126.9 703.8,125.0 706.3,130.4 708.8,140.0 711.3,141.7 713.8,148.7 716.2,151.3 718.7,163.8 721.2,164.5 723.7,147.5 726.2,141.2 728.6,135.8 731.1,129.9 733.6,137.6 736.1,142.6 738.6,148.9 741.1,155.0 743.5,155.0 746.0,158.3 748.5,163.8 751.0,164.1 753.5,166.3 755.9,174.4 758.4,182.5 760.9,172.5 763.4,171.9 765.9,180.0 768.4,182.6 770.8,192.5 773.3,194.5 775.8,194.9 778.3,199.2 780.8,198.8 783.2,199.5 785.7,205.0 788.2,205.8 790.7,203.7 793.2,210.0 795.7,217.6 798.1,220.7 800.6,226.2 803.1,215.2 805.6,216.2 808.1,219.3 810.5,221.3 813.0,240.1 815.5,233.5 818.0,232.5 820.5,228.8 823.0,230.0 825.4,236.2 827.9,247.5 830.4,249.0 832.9,255.0 835.4,260.6 837.8,266.2 840.3,269.8 842.8,275.0 845.3,274.1 847.8,269.9 850.3,269.0 852.7,261.3 855.2,264.7 857.7,269.9 860.2,272.3 862.7,280.0 865.1,290.0 867.6,282.6 870.1,281.2 872.6,279.8 875.1,287.5 877.6,289.1 880.0,282.6 882.5,295.5 885.0,302.4 887.5,314.7 890.0,323.7 892.4,319.3 894.9,310.0 897.4,309.6 899.9,303.7 902.4,313.3 904.9,324.9 907.3,321.8 909.8,320.0 912.3,332.5 914.8,335.1 917.3,337.6 919.7,340.4 922.2,347.6 924.7,354.0 927.2,362.5 929.7,370.1 932.2,371.3 934.6,372.0 937.1,373.8 939.6,382.5 942.1,384.0 944.6,383.8 947.0,384.0 949.5,391.3 952.0,389.9 954.5,393.4 957.0,399.9 959.5,407.5 961.9,380.1 964.4,391.4 966.9,402.5 969.4,420.0 971.9,420.9 974.3,422.4 976.8,437.2 979.3,456.3 981.8,433.8 984.3,448.1 986.8,460.0 989.2,450.0 991.7,455.5 994.2,460.0 996.7,477.6 999.2,467.1 1001.6,455.1 1004.1,472.5 1006.6,482.9 1009.1,490.0 1011.6,502.5 1014.1,516.2 1016.5,505.5 1019.0,495.0 1021.5,484.5 1024.0,470.0 1026.5,479.3 1028.9,490.0 1031.4,507.4 1033.9,529.9 1036.4,508.5 1038.9,490.0 1041.4,515.0 1043.8,508.7"/>
<polyline stroke="#9274FF" points="140.5,411.9 142.9,409.0 145.4,421.2 147.9,429.4 150.4,417.2 152.9,444.8 155.4,425.2 157.8,414.1 160.3,435.6 162.8,440.7 165.3,442.5 167.8,448.5 170.2,443.8 172.7,441.2 175.2,433.8 177.7,456.4 180.2,456.3 182.7,451.9 185.1,449.0 187.6,453.4 190.1,461.2 192.6,455.6 195.1,443.0 197.5,430.9 200.0,431.5 202.5,429.4 205.0,423.9 207.5,436.3 210.0,443.1 212.4,456.0 214.9,456.9 217.4,465.2 219.9,462.2 222.4,454.4 224.8,456.4 227.3,464.4 229.8,476.2 232.3,471.9 234.8,461.8 237.3,451.5 239.7,456.9 242.2,457.5 244.7,469.1 247.2,456.6 249.7,443.1 252.1,451.9 254.6,441.9 257.1,453.7 259.6,470.6 262.1,460.0 264.6,428.2 267.0,438.7 269.5,439.7 272.0,435.0 274.5,457.5 277.0,452.1 279.4,443.7 281.9,447.5 284.4,435.0 286.9,437.2 289.4,428.7 291.9,427.2 294.3,425.3 296.8,422.4 299.3,425.0 301.8,419.3 304.3,412.6 306.7,426.3 309.2,422.8 311.7,415.0 314.2,424.6 316.7,430.0 319.2,399.9 321.6,396.5 324.1,392.0 326.6,388.7 329.1,399.9 331.6,402.8 334.0,399.9 336.5,396.4 339.0,389.9 341.5,380.5 344.0,372.5 346.5,369.1 348.9,367.4 351.4,360.0 353.9,362.2 356.4,365.0 358.9,367.7 361.3,368.8 363.8,366.1 366.3,363.7 368.8,356.5 371.3,347.6 373.8,342.5 376.2,345.8 378.7,350.0 381.2,352.5 383.7,347.7 386.2,337.6 388.6,343.2 391.1,349.8 393.6,353.7 396.1,343.9 398.6,340.0 401.1,338.0 403.5,330.0 406.0,324.9 408.5,330.8 411.0,332.5 413.5,313.7 415.9,319.0 418.4,321.2 420.9,331.2 423.4,334.9 425.9,320.3 428.4,303.7 430.8,309.2 433.3,312.5 435.8,295.0 438.3,290.0 440.8,285.0 443.2,286.3 445.7,291.2 448.2,283.8 450.7,288.0 453.2,287.1 455.7,293.8 458.1,292.0 460.6,284.1 463.1,273.8 465.6,261.3 468.1,263.4 470.5,258.7 473.0,255.0 475.5,252.5 478.0,251.2 480.5,250.1 483.0,244.6 485.4,245.0 487.9,232.8 490.4,227.4 492.9,243.8 495.4,242.2 497.8,245.0 500.3,233.6 502.8,227.4 505.3,218.4 507.8,213.7 510.3,218.9 512.7,220.0 515.2,220.9 517.7,217.3 520.2,215.0 522.7,216.2 525.1,210.0 527.6,205.8 530.1,200.0 532.6,210.0 535.1,204.3 537.6,202.5 540.0,197.7 542.5,194.8 545.0,190.0 547.5,180.0 550.0,165.0 552.4,163.1 554.9,160.0 557.4,158.3 559.9,156.5 562.4,148.7 564.9,162.0 567.3,170.0 569.8,167.8 572.3,160.0 574.8,154.9 577.3,161.2 579.7,156.0 582.2,152.4 584.7,148.9 587.2,143.8 589.7,145.9 592.1,150.8 594.6,155.0 597.1,150.8 599.6,140.0 602.1,135.3 604.6,131.5 607.0,129.9 609.5,112.5 612.0,121.6 614.5,127.5 617.0,123.8 619.4,127.2 621.9,122.5 624.4,119.7 626.9,111.3 629.4,110.1 631.9,106.2 634.3,103.3 636.8,107.5 639.3,116.9 641.8,119.9 644.3,119.2 646.7,110.1 649.2,98.8 651.7,102.5 654.2,101.6 656.7,105.0 659.2,105.4 661.6,107.5 664.1,102.0 666.6,102.5 669.1,103.5 671.6,98.8 674.0,103.6 676.5,102.5 679.0,100.9 681.5,107.5 684.0,107.9 686.5,102.5 688.9,106.4 691.4,102.5 693.9,105.0 696.4,104.0 698.9,112.5 701.3,113.1 703.8,109.4 706.3,115.0 708.8,121.0 711.3,127.5 713.8,129.8 716.2,129.9 718.7,135.2 721.2,142.6 723.7,141.3 726.2,140.0 728.6,135.0 731.1,127.5 733.6,129.9 736.1,133.5 738.6,140.0 741.1,144.2 743.5,148.7 746.0,151.9 748.5,153.8 751.0,147.8 753.5,150.0 755.9,150.9 758.4,152.4 760.9,155.4 763.4,156.1 765.9,160.0 768.4,162.4 770.8,171.8 773.3,181.2 775.8,177.3 778.3,176.6 780.8,178.8 783.2,182.7 785.7,184.9 788.2,183.4 790.7,189.5 793.2,190.0 795.7,187.9 798.1,183.7 800.6,190.8 803.1,194.9 805.6,196.0 808.1,197.5 810.5,202.6 813.0,210.0 815.5,213.7 818.0,206.9 820.5,202.5 823.0,192.5 825.4,210.3 827.9,232.5 830.4,225.0 832.9,228.0 835.4,231.3 837.8,240.1 840.3,245.0 842.8,244.6 845.3,242.0 847.8,240.1 850.3,246.2 852.7,245.1 855.2,242.5 857.7,247.0 860.2,254.2 862.7,256.2 865.1,259.9 867.6,254.9 870.1,262.5 872.6,261.0 875.1,261.2 877.6,256.2 880.0,260.8 882.5,269.3 885.0,276.3 887.5,275.0 890.0,283.3 892.4,290.0 894.9,284.2 897.4,275.0 899.9,271.0 902.4,271.2 904.9,280.6 907.3,290.0 909.8,293.8 912.3,302.4 914.8,307.2 917.3,310.0 919.7,308.5 922.2,302.4 924.7,308.1 927.2,308.8 929.7,315.6 932.2,322.5 934.6,320.8 937.1,312.5 939.6,322.3 942.1,334.9 944.6,327.8 947.0,327.5 949.5,337.6 952.0,330.8 954.5,330.0 957.0,334.9 959.5,334.5 961.9,337.6 964.4,324.9 966.9,337.3 969.4,350.0 971.9,357.4 974.3,357.3 976.8,356.2 979.3,361.3 981.8,358.1 984.3,356.2 986.8,370.1 989.2,375.4 991.7,377.5 994.2,386.8 996.7,388.7 999.2,385.0 1001.6,389.9 1004.1,388.3 1006.6,387.5 1009.1,386.2 1011.6,395.4 1014.1,405.0 1016.5,418.7 1019.0,403.6 1021.5,391.3 1024.0,394.3 1026.5,396.2 1028.9,401.3 1031.4,402.5 1033.9,413.7 1036.4,423.8 1038.9,408.7 1041.4,406.3 1043.8,425.0"/>
<polyline stroke="#D759F6" points="140.5,606.3 142.9,613.7 145.4,615.6 147.9,633.7 150.4,646.9 152.9,648.1 155.4,640.6 157.8,652.5 160.3,659.9 162.8,666.2 165.3,659.9 167.8,652.7 170.2,643.8 172.7,643.5 175.2,632.5 177.7,592.5 180.2,566.3 182.7,566.8 185.1,552.6 187.6,563.8 190.1,572.4 192.6,581.9 195.1,592.5 197.5,603.7 200.0,612.5 202.5,617.6 205.0,608.8 207.5,601.2 210.0,592.5 212.4,598.8 214.9,594.9 217.4,590.0 219.9,593.7 222.4,614.4 224.8,600.0 227.3,565.0 229.8,539.9 232.3,506.2 234.8,523.8 237.3,539.9 239.7,546.3 242.2,565.0 244.7,571.2 247.2,566.3 249.7,548.7 252.1,547.5 254.6,560.0 257.1,568.7 259.6,542.6 262.1,535.0 264.6,536.2 267.0,525.0 269.5,522.0 272.0,513.8 274.5,497.4 277.0,492.1 279.4,490.0 281.9,486.2 284.4,500.0 286.9,507.4 289.4,512.5 291.9,517.0 294.3,518.7 296.8,520.1 299.3,516.2 301.8,490.0 304.3,473.7 306.7,468.6 309.2,457.5 311.7,456.3 314.2,443.7 316.7,436.3 319.2,448.8 321.6,456.3 324.1,457.5 326.6,467.5 329.1,445.1 331.6,442.5 334.0,450.7 336.5,443.7 339.0,453.7 341.5,440.0 344.0,434.4 346.5,423.8 348.9,425.6 351.4,421.9 353.9,410.0 356.4,407.1 358.9,406.9 361.3,405.0 363.8,396.1 366.3,389.9 368.8,384.9 371.3,377.5 373.8,387.5 376.2,381.4 378.7,375.5 381.2,373.8 383.7,376.9 386.2,380.1 388.6,376.6 391.1,377.5 393.6,371.4 396.1,362.5 398.6,357.4 401.1,360.6 403.5,350.0 406.0,351.3 408.5,341.9 411.0,343.7 413.5,341.1 415.9,333.7 418.4,322.5 420.9,315.1 423.4,316.7 425.9,310.0 428.4,308.6 430.8,308.8 433.3,309.6 435.8,307.7 438.3,305.1 440.8,307.5 443.2,302.4 445.7,300.0 448.2,290.0 450.7,282.6 453.2,287.1 455.7,291.2 458.1,281.2 460.6,281.2 463.1,280.6 465.6,280.0 468.1,280.1 470.5,272.6 473.0,275.4 475.5,271.5 478.0,273.8 480.5,266.0 483.0,259.9 485.4,262.4 487.9,253.8 490.4,256.2 492.9,251.0 495.4,250.1 497.8,245.0 500.3,235.4 502.8,234.4 505.3,227.4 507.8,215.0 510.3,215.1 512.7,220.0 515.2,221.8 517.7,225.0 520.2,218.3 522.7,212.5 525.1,208.4 527.6,210.0 530.1,200.0 532.6,204.4 535.1,202.5 537.6,203.7 540.0,200.0 542.5,191.1 545.0,190.0 547.5,192.2 550.0,193.7 552.4,196.3 554.9,198.8 557.4,198.1 559.9,197.1 562.4,194.9 564.9,194.9 567.3,200.0 569.8,188.9 572.3,192.5 574.8,193.3 577.3,193.7 579.7,186.9 582.2,184.9 584.7,177.4 587.2,175.1 589.7,178.6 592.1,182.5 594.6,175.3 597.1,173.7 599.6,166.8 602.1,170.0 604.6,165.0 607.0,173.0 609.5,170.0 612.0,167.8 614.5,160.0 617.0,161.1 619.4,169.7 621.9,172.5 624.4,172.2 626.9,161.8 629.4,161.2 631.9,165.0 634.3,168.8 636.8,165.2 639.3,175.9 641.8,175.1 644.3,174.1 646.7,167.5 649.2,169.3 651.7,164.9 654.2,162.4 656.7,163.3 659.2,163.1 661.6,157.5 664.1,167.4 666.6,167.5 669.1,165.5 671.6,168.8 674.0,169.0 676.5,169.7 679.0,172.5 681.5,173.8 684.0,170.8 686.5,177.5 688.9,174.4 691.4,176.3 693.9,181.8 696.4,182.7 698.9,181.2 701.3,182.3 703.8,184.9 706.3,185.3 708.8,192.5 711.3,199.3 713.8,200.0 716.2,204.4 718.7,207.6 721.2,206.5 723.7,210.0 726.2,216.1 728.6,212.2 731.1,216.2 733.6,217.7 736.1,219.3 738.6,220.0 741.1,222.2 743.5,230.0 746.0,231.8 748.5,232.7 751.0,242.5 753.5,240.1 755.9,243.8 758.4,253.8 760.9,250.1 763.4,253.5 765.9,255.0 768.4,247.5 770.8,250.2 773.3,240.1 775.8,245.0 778.3,255.0 780.8,258.2 783.2,266.2 785.7,264.6 788.2,265.0 790.7,268.2 793.2,266.2 795.7,280.0 798.1,281.3 800.6,287.5 803.1,296.3 805.6,295.0 808.1,299.6 810.5,293.8 813.0,296.7 815.5,293.8 818.0,303.3 820.5,310.0 823.0,312.6 825.4,324.9 827.9,316.6 830.4,307.5 832.9,307.8 835.4,306.3 837.8,320.0 840.3,322.7 842.8,323.7 845.3,321.1 847.8,322.5 850.3,327.1 852.7,345.0 855.2,343.7 857.7,357.4 860.2,360.0 862.7,370.1 865.1,372.5 867.6,380.1 870.1,371.3 872.6,367.6 875.1,376.2 877.6,395.0 880.0,401.6 882.5,410.0 885.0,406.9 887.5,402.5 890.0,415.0 892.4,429.7 894.9,442.5 897.4,423.8 899.9,431.3 902.4,445.1 904.9,451.0 907.3,457.5 909.8,462.1 912.3,467.5 914.8,472.8 917.3,477.6 919.7,481.5 922.2,486.2 924.7,490.9 927.2,495.0 929.7,478.8 932.2,510.1 934.6,536.2 937.1,527.7 939.6,526.2 942.1,532.5 944.6,522.1 947.0,515.0 949.5,520.5 952.0,529.9 954.5,533.2 957.0,533.8 959.5,528.7 961.9,517.5 964.4,529.8 966.9,539.9 969.4,555.0 971.9,562.0 974.3,565.0 976.8,570.0 979.3,575.1 981.8,575.2 984.3,580.0 986.8,576.4 989.2,577.5 991.7,584.8 994.2,587.5 996.7,568.9 999.2,554.9 1001.6,538.7 1004.1,557.5 1006.6,565.7 1009.1,567.5 1011.6,555.6 1014.1,550.0 1016.5,562.4 1019.0,573.1 1021.5,582.5 1024.0,577.2 1026.5,574.8 1028.9,570.0 1031.4,577.1 1033.9,582.5 1036.4,602.5 1038.9,600.0 1041.4,590.0 1043.8,583.7"/>
<polyline stroke="#FA4ACD" points="140.5,602.5 142.9,593.2 145.4,601.9 147.9,613.7 150.4,610.6 152.9,617.6 155.4,632.5 157.8,631.3 160.3,650.6 162.8,625.0 165.3,619.2 167.8,615.6 170.2,606.3 172.7,628.1 175.2,620.0 177.7,604.9 180.2,614.4 182.7,611.1 185.1,609.3 187.6,603.7 190.1,569.4 192.6,578.8 195.1,590.0 197.5,601.2 200.0,610.0 202.5,625.7 205.0,618.1 207.5,616.9 210.0,618.1 212.4,610.6 214.9,598.8 217.4,632.5 219.9,617.8 222.4,599.3 224.8,597.5 227.3,588.8 229.8,582.5 232.3,594.9 234.8,591.9 237.3,570.0 239.7,584.4 242.2,565.0 244.7,563.8 247.2,570.7 249.7,577.9 252.1,586.8 254.6,551.2 257.1,553.0 259.6,553.8 262.1,551.9 264.6,558.7 267.0,539.9 269.5,539.4 272.0,544.5 274.5,548.7 277.0,527.1 279.4,505.0 281.9,526.2 284.4,517.9 286.9,510.1 289.4,516.2 291.9,510.9 294.3,501.3 296.8,491.3 299.3,502.5 301.8,517.5 304.3,498.8 306.7,497.4 309.2,480.0 311.7,466.3 314.2,456.3 316.7,459.2 319.2,457.5 321.6,460.0 324.1,459.6 326.6,461.2 329.1,442.5 331.6,435.0 334.0,436.3 336.5,428.7 339.0,426.3 341.5,432.4 344.0,420.0 346.5,422.3 348.9,420.0 351.4,415.3 353.9,410.0 356.4,398.3 358.9,397.5 361.3,392.5 363.8,396.2 366.3,399.9 368.8,384.9 371.3,370.1 373.8,361.7 376.2,350.0 378.7,338.6 381.2,327.5 383.7,329.2 386.2,332.5 388.6,324.9 391.1,317.5 393.6,313.6 396.1,302.4 398.6,300.3 401.1,292.4 403.5,287.1 406.0,286.3 408.5,278.7 411.0,283.1 413.5,280.8 415.9,282.6 418.4,276.9 420.9,272.4 423.4,265.0 425.9,265.4 428.4,269.9 430.8,258.7 433.3,258.7 435.8,254.7 438.3,252.5 440.8,250.1 443.2,248.4 445.7,236.2 448.2,232.1 450.7,237.5 453.2,234.8 455.7,227.4 458.1,221.4 460.6,222.5 463.1,217.3 465.6,210.0 468.1,205.0 470.5,205.8 473.0,206.2 475.5,196.3 478.0,186.3 480.5,191.2 483.0,200.0 485.4,184.0 487.9,170.0 490.4,168.8 492.9,166.3 495.4,164.0 497.8,168.8 500.3,163.4 502.8,154.4 505.3,150.0 507.8,155.0 510.3,150.0 512.7,149.7 515.2,152.4 517.7,144.2 520.2,133.8 522.7,142.6 525.1,137.1 527.6,132.5 530.1,142.6 532.6,155.0 535.1,137.6 537.6,123.8 540.0,128.6 542.5,128.7 545.0,140.2 547.5,148.7 550.0,142.7 552.4,128.7 554.9,126.9 557.4,123.0 559.9,121.3 562.4,129.9 564.9,120.5 567.3,117.5 569.8,111.4 572.3,111.7 574.8,105.0 577.3,102.1 579.7,102.5 582.2,108.4 584.7,108.4 587.2,110.1 589.7,106.2 592.1,101.3 594.6,101.4 597.1,100.1 599.6,91.5 602.1,83.7 604.6,85.2 607.0,91.3 609.5,92.8 612.0,93.7 614.5,91.7 617.0,88.8 619.4,89.2 621.9,97.4 624.4,82.1 626.9,78.8 629.4,83.7 631.9,87.4 634.3,92.5 636.8,93.7 639.3,93.7 641.8,89.5 644.3,83.7 646.7,95.1 649.2,97.4 651.7,100.1 654.2,95.9 656.7,93.3 659.2,90.0 661.6,87.3 664.1,97.4 666.6,94.2 669.1,96.2 671.6,99.6 674.0,101.3 676.5,94.2 679.0,88.8 681.5,93.9 684.0,100.1 686.5,104.2 688.9,103.8 691.4,98.8 693.9,103.1 696.4,102.5 698.9,97.3 701.3,103.8 703.8,106.6 706.3,110.1 708.8,108.8 711.3,107.5 713.8,110.9 716.2,117.5 718.7,117.3 721.2,118.7 723.7,96.2 726.2,112.5 728.6,111.6 731.1,118.7 733.6,123.8 736.1,129.9 738.6,133.6 741.1,137.5 743.5,142.6 746.0,143.8 748.5,148.7 751.0,142.6 753.5,149.7 755.9,155.0 758.4,154.1 760.9,160.0 763.4,165.6 765.9,170.0 768.4,183.3 770.8,196.3 773.3,195.1 775.8,197.5 778.3,196.7 780.8,186.3 783.2,189.3 785.7,192.5 788.2,202.5 790.7,210.6 793.2,221.3 795.7,227.2 798.1,230.0 800.6,228.8 803.1,221.3 805.6,236.8 808.1,245.0 810.5,241.6 813.0,237.5 815.5,227.4 818.0,228.8 820.5,235.4 823.0,242.5 825.4,244.3 827.9,252.5 830.4,259.7 832.9,266.2 835.4,271.2 837.8,261.3 840.3,263.8 842.8,270.6 845.3,280.0 847.8,259.9 850.3,267.2 852.7,277.5 855.2,286.1 857.7,300.0 860.2,292.4 862.7,291.1 865.1,285.0 867.6,288.6 870.1,300.0 872.6,307.8 875.1,307.5 877.6,298.9 880.0,293.8 882.5,314.9 885.0,337.6 887.5,334.9 890.0,332.5 892.4,338.6 894.9,342.5 897.4,356.2 899.9,361.0 902.4,365.0 904.9,369.9 907.3,370.1 909.8,391.3 912.3,399.4 914.8,408.7 917.3,411.7 919.7,412.6 922.2,408.7 924.7,404.5 927.2,407.5 929.7,406.1 932.2,405.0 934.6,425.0 937.1,437.1 939.6,450.0 942.1,451.2 944.6,460.3 947.0,467.5 949.5,474.7 952.0,485.0 954.5,466.3 957.0,480.7 959.5,495.0 961.9,497.7 964.4,507.4 966.9,510.1 969.4,517.3 971.9,527.5 974.3,509.6 976.8,492.5 979.3,500.0 981.8,510.1 984.3,532.5 986.8,542.0 989.2,547.5 991.7,551.9 994.2,565.0 996.7,553.8 999.2,565.9 1001.6,575.1 1004.1,550.0 1006.6,554.6 1009.1,557.5 1011.6,565.7 1014.1,575.1 1016.5,590.0 1019.0,580.3 1021.5,570.0 1024.0,590.0 1026.5,599.2 1028.9,607.6 1031.4,599.6 1033.9,587.5 1036.4,582.5 1038.9,591.0 1041.4,597.5 1043.8,603.7"/>
<polyline stroke="#FF4F95" points="140.5,697.5 142.9,705.0 145.4,721.2 147.9,741.2 150.4,742.5 152.9,751.3 155.4,756.2 157.8,752.5 160.3,743.7 162.8,741.2 165.3,752.5 167.8,750.6 170.2,754.4 172.7,750.0 175.2,748.1 177.7,755.0 180.2,738.4 182.7,727.5 185.1,716.0 187.6,707.5 190.1,722.5 192.6,731.2 195.1,736.9 197.5,742.5 200.0,766.2 202.5,758.8 205.0,766.2 207.5,779.4 210.0,760.0 212.4,758.8 214.9,762.5 217.4,750.0 219.9,740.7 222.4,732.5 224.8,731.9 227.3,708.7 229.8,700.7 232.3,693.1 234.8,688.7 237.3,700.0 239.7,703.8 242.2,722.5 244.7,723.7 247.2,732.5 249.7,734.4 252.1,716.8 254.6,723.1 257.1,716.3 259.6,720.0 262.1,698.7 264.6,692.3 267.0,683.8 269.5,674.6 272.0,664.0 274.5,662.0 277.0,662.0 279.4,651.3 281.9,639.0 284.4,639.1 286.9,640.2 289.4,640.0 291.9,637.2 294.3,635.2 296.8,641.6 299.3,649.0 301.8,645.0 304.3,637.7 306.7,634.0 309.2,626.7 311.7,621.0 314.2,613.4 316.7,617.8 319.2,624.0 321.6,616.3 324.1,611.3 326.6,607.7 329.1,605.2 331.6,602.5 334.0,601.5 336.5,592.9 339.0,591.2 341.5,586.4 344.0,591.5 346.5,591.5 348.9,583.0 351.4,576.1 353.9,565.3 356.4,553.9 358.9,544.9 361.3,531.4 363.8,520.2 366.3,542.7 368.8,533.5 371.3,525.4 373.8,521.4 376.2,513.3 378.7,509.0 381.2,501.8 383.7,496.8 386.2,494.0 388.6,479.5 391.1,457.5 393.6,463.7 396.1,457.8 398.6,447.5 401.1,452.5 403.5,441.8 406.0,428.7 408.5,420.5 411.0,415.0 413.5,395.0 415.9,396.1 418.4,399.9 420.9,400.4 423.4,395.0 425.9,386.0 428.4,368.5 430.8,355.0 433.3,360.0 435.8,361.3 438.3,362.5 440.8,349.1 443.2,343.7 445.7,345.0 448.2,338.9 450.7,322.5 453.2,321.1 455.7,321.2 458.1,326.3 460.6,316.0 463.1,312.5 465.6,303.7 468.1,309.9 470.5,307.5 473.0,302.4 475.5,293.0 478.0,280.0 480.5,287.5 483.0,279.8 485.4,272.6 487.9,261.4 490.4,259.9 492.9,261.0 495.4,250.1 497.8,252.4 500.3,250.1 502.8,238.8 505.3,237.5 507.8,231.7 510.3,222.5 512.7,221.7 515.2,214.7 517.7,215.0 520.2,216.3 522.7,212.5 525.1,212.5 527.6,206.2 530.1,204.4 532.6,202.5 535.1,202.5 537.6,199.6 540.0,197.5 542.5,189.6 545.0,180.0 547.5,173.7 550.0,172.9 552.4,164.8 554.9,166.3 557.4,163.4 559.9,163.8 562.4,160.0 564.9,166.8 567.3,167.5 569.8,164.4 572.3,155.0 574.8,157.9 577.3,145.7 579.7,152.4 582.2,145.2 584.7,142.6 587.2,142.1 589.7,137.5 592.1,137.2 594.6,140.0 597.1,136.3 599.6,136.9 602.1,135.0 604.6,141.2 607.0,141.2 609.5,129.9 612.0,127.2 614.5,122.7 617.0,122.5 619.4,129.9 621.9,136.1 624.4,142.6 626.9,134.5 629.4,131.3 631.9,132.1 634.3,132.5 636.8,131.6 639.3,129.9 641.8,131.2 644.3,137.5 646.7,134.9 649.2,127.5 651.7,123.8 654.2,131.0 656.7,140.0 659.2,136.7 661.6,132.5 664.1,131.3 666.6,128.7 669.1,130.2 671.6,129.9 674.0,129.5 676.5,139.7 679.0,140.0 681.5,147.5 684.0,143.9 686.5,141.2 688.9,143.2 691.4,160.0 693.9,168.8 696.4,168.2 698.9,167.5 701.3,165.0 703.8,168.8 706.3,167.9 708.8,160.0 711.3,164.6 713.8,173.7 716.2,177.9 718.7,178.8 721.2,179.0 723.7,187.5 726.2,189.9 728.6,192.5 731.1,199.1 733.6,194.1 736.1,202.5 738.6,203.4 741.1,210.0 743.5,222.5 746.0,236.9 748.5,243.8 751.0,251.7 753.5,245.0 755.9,240.9 758.4,242.5 760.9,244.6 763.4,251.3 765.9,252.5 768.4,254.3 770.8,259.9 773.3,256.8 775.8,253.8 778.3,252.8 780.8,257.5 783.2,264.6 785.7,268.7 788.2,271.5 790.7,277.5 793.2,278.7 795.7,282.6 798.1,293.5 800.6,302.4 803.1,308.8 805.6,307.1 808.1,310.0 810.5,310.0 813.0,318.8 815.5,322.5 818.0,326.3 820.5,321.2 823.0,337.4 825.4,340.0 827.9,347.6 830.4,340.3 832.9,334.9 835.4,327.5 837.8,335.5 840.3,342.5 842.8,350.0 845.3,360.6 847.8,360.0 850.3,370.1 852.7,372.7 855.2,377.5 857.7,388.0 860.2,395.0 862.7,402.5 865.1,405.3 867.6,403.8 870.1,394.7 872.6,388.7 875.1,401.2 877.6,412.6 880.0,427.5 882.5,437.5 885.0,432.4 887.5,450.0 890.0,454.8 892.4,464.9 894.9,473.9 897.4,478.8 899.9,472.5 902.4,470.0 904.9,492.5 907.3,495.8 909.8,500.0 912.3,498.3 914.8,497.4 917.3,512.5 919.7,520.3 922.2,525.0 924.7,529.4 927.2,535.0 929.7,539.9 932.2,590.0 934.6,602.2 937.1,612.5 939.6,610.0 942.1,613.0 944.6,613.7 947.0,603.7 949.5,596.3 952.0,614.3 954.5,630.0 957.0,645.0 959.5,630.7 961.9,620.0 964.4,616.2 966.9,642.5 969.4,639.2 971.9,640.0 974.3,655.0 976.8,668.8 979.3,677.5 981.8,680.0 984.3,688.2 986.8,695.0 989.2,700.0 991.7,701.2 994.2,707.2 996.7,707.5 999.2,686.9 1001.6,669.9 1004.1,663.8 1006.6,675.0 1009.1,681.5 1011.6,687.5 1014.1,692.6 1016.5,690.0 1019.0,696.5 1021.5,701.2 1024.0,700.0 1026.5,710.0 1028.9,702.4 1031.4,711.8 1033.9,717.5 1036.4,700.0 1038.9,696.3 1041.4,715.1 1043.8,705.0"/>
</g>
<g stroke="#202020" stroke-width="2.85">
<line x1="87.97" x2="95.3" y1="635.25" y2="635.25"/>
<line x1="87.97" x2="95.3" y1="361.00" y2="361.00"/>
<line x1="87.97" x2="95.3" y1="86.75" y2="86.75"/>
<line y1="877.8" y2="885.13" x1="137.99" x2="137.99"/>
<line y1="877.8" y2="885.13" x1="386.16" x2="386.16"/>
<line y1="877.8" y2="885.13" x1="634.34" x2="634.34"/>
<line y1="877.8" y2="885.13" x1="882.52" x2="882.52"/>
</g>
<g fill="#373737" font-size="23.47px">
<text x="82.10" y="643.65" text-anchor="end">-20</text>
<text x="82.10" y="369.40" text-anchor="end">0</text>
<text x="82.10" y="95.15" text-anchor="end">20</text>
<text x="137.99" y="906.90" text-anchor="middle">0</text>
<text x="386.16" y="906.90" text-anchor="middle">100</text>
<text x="634.34" y="906.90" text-anchor="middle">200</text>
<text x="882.52" y="906.90" text-anchor="middle">300</text>
</g>
<text x="592.15" y="939.8" text-anchor="middle" font-size="29.33px" fill="#000">time</text>
<text transform="translate(35,446.35) rotate(-90)" text-anchor="middle" font-size="29.33px" fill="#000">value</text>
<text x="1133" y="126.9" font-size="29.33px" fill="#000">variable</text>
<rect x="1133.2" y="143.9" width="46.08" height="645.12" fill="#E6E6E6"/>
<line x1="1137.2" x2="1174.1" y1="166.94" y2="166.94" stroke="#F65F56" stroke-width="2.85"/>
<text x="1193.3" y="175.54" font-size="23.47px" fill="#000">Churchill</text>
<line x1="1137.2" x2="1174.1" y1="213.02" y2="213.02" stroke="#DC7300" stroke-width="2.85"/>
<text x="1193.3" y="221.62" font-size="23.47px" fill="#000">Dawson</text>
<line x1="1137.2" x2="1174.1" y1="259.10" y2="259.10" stroke="#B68600" stroke-width="2.85"/>
<text x="1193.3" y="267.70" font-size="23.47px" fill="#000">Edmonton</text>
<line x1="1137.2" x2="1174.1" y1="305.18" y2="305.18" stroke="#859500" stroke-width="2.85"/>
<text x="1193.3" y="313.78" font-size="23.47px" fill="#000">Fredericton</text>
<line x1="1137.2" x2="1174.1" y1="351.26" y2="351.26" stroke="#3DA300" stroke-width="2.85"/>
<text x="1193.3" y="359.86" font-size="23.47px" fill="#000">Montreal</text>
<line x1="1137.2" x2="1174.1" y1="397.34" y2="397.34" stroke="#00AD3F" stroke-width="2.85"/>
<text x="1193.3" y="405.94" font-size="23.47px" fill="#000">Ottawa</text>
<line x1="1137.2" x2="1174.1" y1="443.42" y2="443.42" stroke="#00B17F" stroke-width="2.85"/>
<text x="1193.3" y="452.02" font-size="23.47px" fill="#000">Regina</text>
<line x1="1137.2" x2="1174.1" y1="489.50" y2="489.50" stroke="#00B0B6" stroke-width="2.85"/>
<text x="1193.3" y="498.10" font-size="23.47px" fill="#000">Resolute</text>
<line x1="1137.2" x2="1174.1" y1="535.58" y2="535.58" stroke="#00A6E6" stroke-width="2.85"/>
<text x="1193.3" y="544.18" font-size="23.47px" fill="#000">Scheffervll</text>
<line x1="1137.2" x2="1174.1" y1="581.66" y2="581.66" stroke="#0291FF" stroke-width="2.85"/>
<text x="1193.3" y="590.26" font-size="23.47px" fill="#000">Sherbrooke</text>
<line x1="1137.2" x2="1174.1" y1="627.74" y2="627.74" stroke="#9274FF" stroke-width="2.85"/>
<text x="1193.3" y="636.34" font-size="23.47px" fill="#000">Sydney</text>
<line x1="1137.2" x2="1174.1" y1="673.82" y2="673.82" stroke="#D759F6" stroke-width="2.85"/>
<text x="1193.3" y="682.42" font-size="23.47px" fill="#000">Whitehorse</text>
<line x1="1137.2" x2="1174.1" y1="719.90" y2="719.90" stroke="#FA4ACD" stroke-width="2.85"/>
<text x="1193.3" y="728.50" font-size="23.47px" fill="#000">Winnipeg</text>
<line x1="1137.2" x2="1174.1" y1="765.98" y2="765.98" stroke="#FF4F95" stroke-width="2.85"/>
<text x="1193.3" y="774.58" font-size="23.47px" fill="#000">Yellowknife</text>
</svg></body></html>
